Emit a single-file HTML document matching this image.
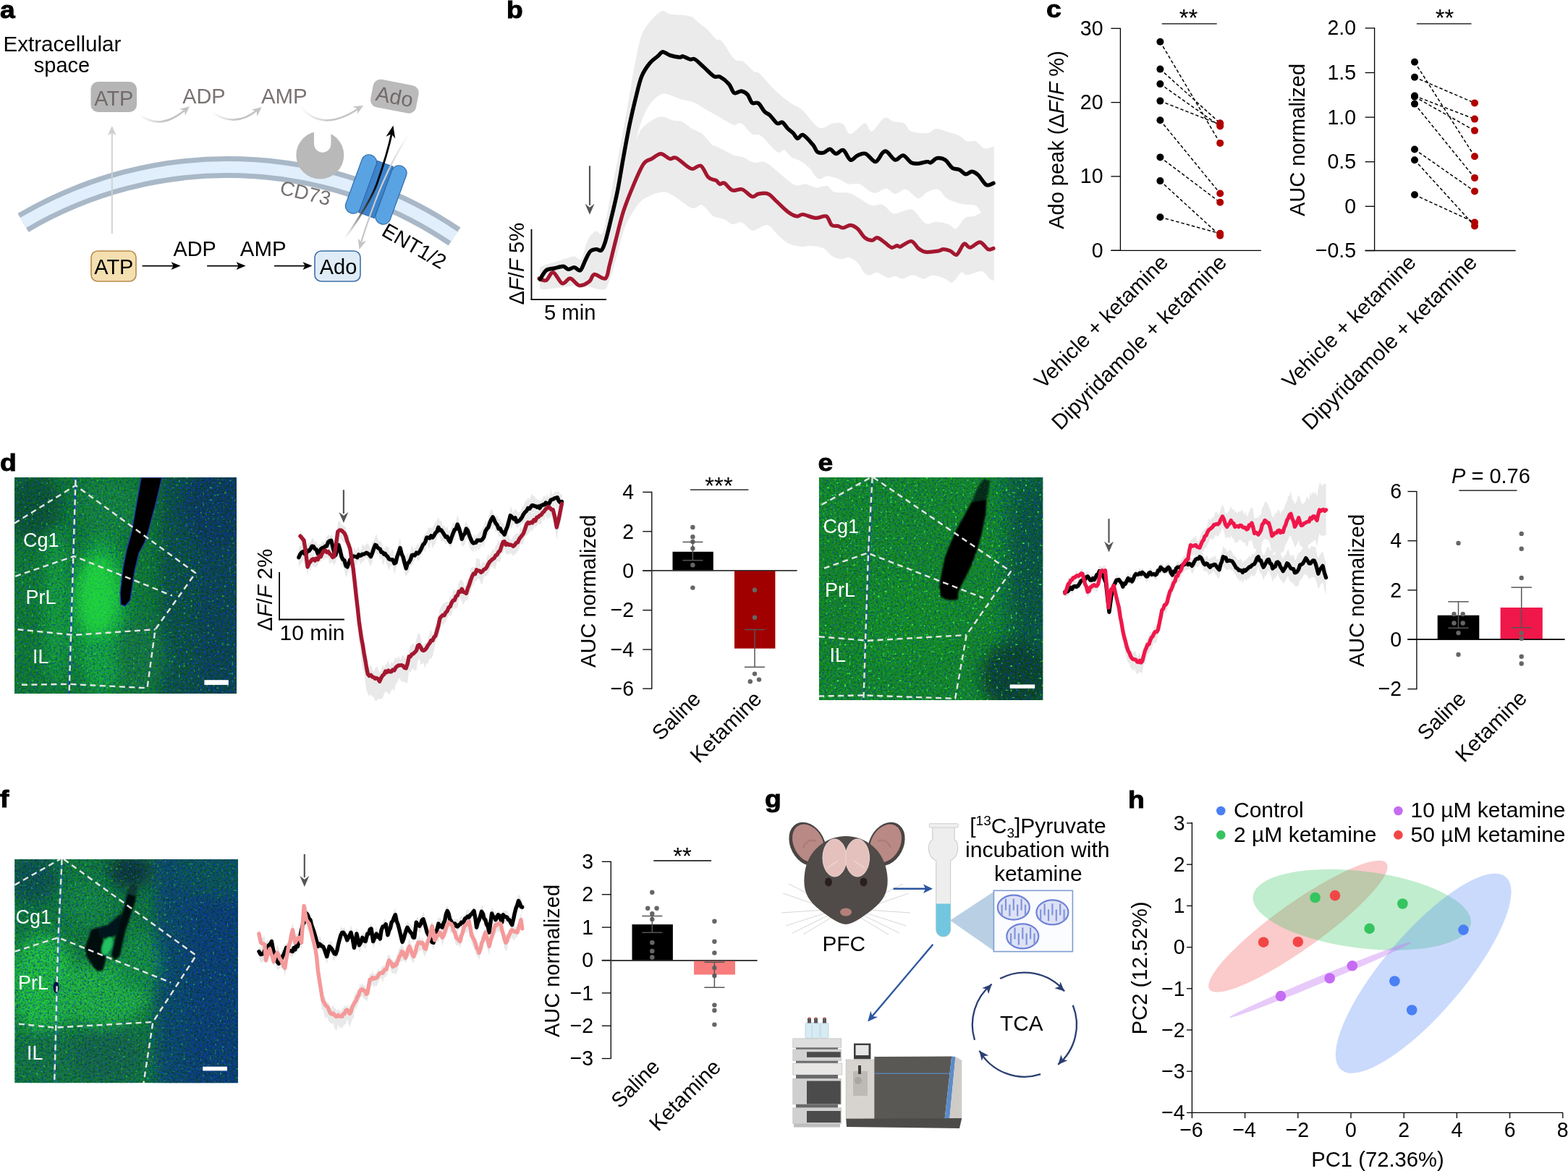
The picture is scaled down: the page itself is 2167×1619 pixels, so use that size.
<!DOCTYPE html>
<html><head><meta charset="utf-8"><title>Figure</title>
<style>
html,body{margin:0;padding:0;background:#fff;}
body{width:2167px;height:1619px;overflow:hidden;}
svg{display:block;}
text{font-family:"Liberation Sans", Arial, Helvetica, sans-serif;}
</style></head><body>
<svg width="2167" height="1619" viewBox="0 0 2167 1619">
<defs>
<linearGradient id="gArrBlk" gradientUnits="userSpaceOnUse" x1="476" y1="330" x2="540" y2="180">
<stop offset="0" stop-color="#999" stop-opacity="0"/><stop offset="0.3" stop-color="#444"/><stop offset="0.55" stop-color="#000"/></linearGradient>
<linearGradient id="gArrGryD" gradientUnits="userSpaceOnUse" x1="565" y1="186" x2="500" y2="335">
<stop offset="0" stop-color="#c4c4c4" stop-opacity="0"/><stop offset="0.35" stop-color="#d0d0d0"/><stop offset="1" stop-color="#c4c4c4"/></linearGradient>
<linearGradient id="gArrGry1" gradientUnits="userSpaceOnUse" x1="192" y1="0" x2="262" y2="0">
<stop offset="0" stop-color="#c4c4c4" stop-opacity="0"/><stop offset="0.5" stop-color="#c4c4c4"/></linearGradient>
<linearGradient id="gArrGry2" gradientUnits="userSpaceOnUse" x1="292" y1="0" x2="362" y2="0">
<stop offset="0" stop-color="#c4c4c4" stop-opacity="0"/><stop offset="0.5" stop-color="#c4c4c4"/></linearGradient>
<linearGradient id="gArrGry3" gradientUnits="userSpaceOnUse" x1="414" y1="0" x2="502" y2="0">
<stop offset="0" stop-color="#c4c4c4" stop-opacity="0"/><stop offset="0.5" stop-color="#c4c4c4"/></linearGradient>
<filter id="spkB" x="0" y="0" width="100%" height="100%" color-interpolation-filters="sRGB">
<feTurbulence type="fractalNoise" baseFrequency="0.38" numOctaves="2" seed="3" result="t"/>
<feColorMatrix in="t" type="matrix" values="0 0 0 0 0.05  0 0 0 0 0.2  0 0 0 0 0.95  5 0 0 0 -2.55"/>
</filter>
<filter id="spkD" x="0" y="0" width="100%" height="100%" color-interpolation-filters="sRGB">
<feTurbulence type="fractalNoise" baseFrequency="0.35" numOctaves="2" seed="11" result="t"/>
<feColorMatrix in="t" type="matrix" values="0 0 0 0 0  0 0 0 0 0.05  0 0 0 0 0.02  0 4 0 0 -1.9"/>
</filter>
<filter id="spkG" x="0" y="0" width="100%" height="100%" color-interpolation-filters="sRGB">
<feTurbulence type="fractalNoise" baseFrequency="0.3" numOctaves="1" seed="23" result="t"/>
<feColorMatrix in="t" type="matrix" values="0 0 0 0 0.25  0 0 0 0 1  0 0 0 0 0.35  0 0 10 0 -6.6"/>
</filter>
<filter id="blur3"><feGaussianBlur stdDeviation="3"/></filter>
<filter id="blur6"><feGaussianBlur stdDeviation="6"/></filter>
<filter id="blur10"><feGaussianBlur stdDeviation="10"/></filter>
<filter id="blur1"><feGaussianBlur stdDeviation="0.8"/></filter>
</defs>
<text transform="translate(0 24.5) scale(1.13 1)" font-size="33" font-weight="bold" stroke="#000" stroke-width="0.9">a</text>
<text x="4.5" y="71.3" font-size="29.6">Extracellular</text>
<text x="85.5" y="100" font-size="29" text-anchor="middle">space</text>
<path d="M32.0,308.0 A558.2,558.2 0 0 1 628.0,327.0" fill="none" stroke="#a9b8c7" stroke-width="30"/>
<path d="M32.0,308.0 A558.2,558.2 0 0 1 628.0,327.0" fill="none" stroke="#e1effc" stroke-width="16"/>
<rect x="125.5" y="113" width="63.5" height="42" rx="10" fill="#b6b5b5"/>
<text x="157.3" y="146" font-size="28.8" text-anchor="middle" fill="#726a6a">ATP</text>
<text x="252.3" y="142.5" font-size="28.8" fill="#7a7272">ADP</text>
<text x="361" y="143" font-size="29.4" fill="#7a7272">AMP</text>
<g transform="rotate(11 545.4 133.2)"><rect x="513.4" y="113.7" width="64" height="39" rx="10" fill="#bbbaba"/>
<text x="545.4" y="143.6" font-size="29" text-anchor="middle" fill="#726a6a">Ado</text>
</g>
<path d="M192,158 Q222,182 258,150" fill="none" stroke="url(#gArrGry1)" stroke-width="2.6"/>
<polygon points="-13,-6 0,0 -13,6 -9,0" transform="translate(262 147) rotate(-40)" fill="#c4c4c4"/>
<path d="M293,155 Q325,178 357,151" fill="none" stroke="url(#gArrGry2)" stroke-width="2.6"/>
<polygon points="-13,-6 0,0 -13,6 -9,0" transform="translate(361.5 148) rotate(-40)" fill="#c4c4c4"/>
<path d="M414,146 Q445,185 497,149" fill="none" stroke="url(#gArrGry3)" stroke-width="2.6"/>
<polygon points="-13,-6 0,0 -13,6 -9,0" transform="translate(502 146) rotate(-30)" fill="#c4c4c4"/>
<line x1="154.8" y1="323" x2="154.8" y2="182" stroke="#cfcfcf" stroke-width="1.8"/>
<polygon points="149,187 154.8,174 160.6,187 154.8,184" fill="#cfcfcf"/>
<circle cx="442.3" cy="214.5" r="33" fill="#b9b9b9"/>
<path d="M434,178 L434,199 A11.7,11.7 0 0 0 457.4,199 L457.4,178 Z" fill="#fff"/>
<g transform="rotate(13.3 385.5 268)">
<text x="385.5" y="268" font-size="27.7" fill="#767070">CD73</text>
</g>
<g transform="rotate(20 519.5 262)"><rect x="508" y="224" width="23" height="76" fill="#3d84cc" stroke="#2f68a8" stroke-width="1"/></g>
<g transform="rotate(20 499 254.5)"><rect x="488.5" y="212" width="21" height="85" rx="10" fill="#5aa3e2" stroke="#2f6aa8" stroke-width="1.2"/></g>
<g transform="rotate(20 540.5 269.4)"><rect x="530" y="227" width="21" height="85" rx="10" fill="#5aa3e2" stroke="#2f6aa8" stroke-width="1.2"/></g>
<path d="M564.7,186.3 Q530,236 499,335" fill="none" stroke="url(#gArrGryD)" stroke-width="2.2"/>
<polygon points="-14,-6 0,0 -14,6 -10,0" transform="translate(496.5 344.7) rotate(107)" fill="#c4c4c4"/>
<path d="M476.6,329.8 C492,308 514,275 522,250.9 C530,228 537,205 541.5,184" fill="none" stroke="url(#gArrBlk)" stroke-width="2.8"/>
<polygon points="-17,-6.5 0,0 -17,6.5 -12,0" transform="translate(543.4 173.5) rotate(-78)" fill="#000"/>
<g transform="rotate(30 525.8 324.4)">
<text x="525.8" y="324.4" font-size="28.5">ENT1/2</text>
</g>
<rect x="126" y="347" width="62" height="42" rx="9" fill="#f3dfb0" stroke="#b98b4b" stroke-width="1.6"/>
<text x="157.3" y="378.6" font-size="28.8" text-anchor="middle">ATP</text>
<text x="239.5" y="354.3" font-size="28.8">ADP</text>
<text x="331.8" y="354.3" font-size="29.4">AMP</text>
<rect x="435" y="347" width="63" height="42" rx="9" fill="#dfecf8" stroke="#3d70a6" stroke-width="1.6"/>
<text x="467.5" y="378.7" font-size="29" text-anchor="middle">Ado</text>
<line x1="196.6" y1="367.6" x2="241.6" y2="367.6" stroke="#000" stroke-width="1.6"/>
<polygon points="236.6,362.3 249.6,367.6 236.6,372.9 239.6,367.6" fill="#000"/>
<line x1="286.1" y1="367.6" x2="331.6" y2="367.6" stroke="#000" stroke-width="1.6"/>
<polygon points="326.6,362.3 339.6,367.6 326.6,372.9 329.6,367.6" fill="#000"/>
<line x1="378.9" y1="367.6" x2="423.5" y2="367.6" stroke="#000" stroke-width="1.6"/>
<polygon points="418.5,362.3 431.5,367.6 418.5,372.9 421.5,367.6" fill="#000"/>
<text transform="translate(700 24.5) scale(1.13 1)" font-size="33" font-weight="bold" stroke="#000" stroke-width="0.9">b</text>
<path d="M746,370 C746.8,369.5 747.7,368.1 751,366.9 C754.3,365.7 761.1,364.2 765.9,362.7 C770.7,361.2 775.4,359.4 780,358 C784.6,356.6 789.8,354.4 793.7,354.4 C797.6,354.4 800.4,361.5 803.4,358 C806.4,354.5 808.5,339.9 811.7,333.5 C814.9,327.1 819.5,321.2 822.8,319.6 C826,318 828.9,325.7 831.2,323.8 C833.5,321.9 834.4,318.5 836.7,308.5 C839,298.5 842.3,278.4 845.1,264 C847.9,249.6 850.6,236.7 853.4,222.3 C856.2,208 858.9,193.2 861.7,177.9 C864.5,162.6 867.3,146.3 870.1,130.6 C872.9,114.8 875.6,97.1 878.4,83.4 C881.2,69.7 883.5,57.4 886.8,48.6 C890,39.8 893.3,36.1 897.9,30.6 C902.5,25.1 910,17.2 914.6,15.3 C919.2,13.5 921.1,18.6 925.7,19.5 C930.3,20.4 937.2,20.1 942.3,20.8 C947.4,21.5 952.5,22 956.2,23.6 C959.9,25.2 960.9,27.6 964.6,30.6 C968.3,33.6 974.3,37.7 978.5,41.7 C982.7,45.7 986.9,51.9 990,54.4 C993.1,56.9 993.3,52.3 997.4,56.8 C1001.5,61.3 1009.8,76.8 1014.7,81.5 C1019.7,86.2 1022.6,82.3 1027.1,85.2 C1031.6,88.1 1038.2,96.1 1041.9,98.8 C1045.6,101.5 1045.6,98.2 1049.3,101.3 C1053,104.4 1059.6,112.7 1064.1,117.4 C1068.6,122.1 1071.5,125.4 1076.5,129.7 C1081.5,134 1088.5,139.6 1093.8,143.3 C1099.1,147 1102.8,146.8 1108.6,151.9 C1114.4,157.1 1123.5,170.1 1128.4,174.2 C1133.3,178.3 1134.5,177.3 1138.2,176.7 C1141.9,176.1 1146.1,171.3 1150.6,170.5 C1155.1,169.7 1161.3,169.2 1165.4,171.7 C1169.5,174.2 1170.3,185.5 1175.3,185.3 C1180.2,185.1 1190.1,171.1 1195.1,170.5 C1200,169.9 1200.5,182.8 1205,181.6 C1209.5,180.4 1217.3,165.4 1222.2,163.1 C1227.1,160.8 1230.1,166.8 1234.6,168 C1239.1,169.2 1245.3,168.2 1249.4,170.5 C1253.5,172.8 1254,179.3 1259.3,181.6 C1264.6,183.9 1275.7,184.7 1281.5,184.1 C1287.3,183.5 1289,178.1 1293.9,177.9 C1298.9,177.7 1305.9,181.2 1311.2,182.8 C1316.5,184.5 1321.9,185.7 1326,187.8 C1330.1,189.9 1332.2,194 1335.9,195.2 C1339.6,196.4 1344.1,193.5 1348.2,195.2 C1352.3,196.8 1356.3,203.9 1360.6,205.1 C1364.8,206.3 1371.5,203 1373.7,202.6 L1373.7,387.9 C1372.8,387.5 1370.6,387.5 1368,385.4 C1365.4,383.3 1361.4,376.9 1358.1,375.5 C1354.8,374.1 1351.9,376 1348.2,376.8 C1344.5,377.6 1339.2,380.5 1335.9,380.5 C1332.6,380.5 1331.8,375.2 1328.5,376.8 C1325.2,378.4 1319.8,389 1316.1,390.4 C1312.4,391.8 1310.7,387 1306.2,385.4 C1301.7,383.8 1293.8,380.5 1288.9,380.5 C1284,380.5 1281.1,385.4 1276.6,385.4 C1272.1,385.4 1266.7,380.5 1261.8,380.5 C1256.9,380.5 1251.1,385.2 1247,385.4 C1242.9,385.6 1240.4,381.9 1237.1,381.7 C1233.8,381.5 1231.3,385 1227.2,384.2 C1223.1,383.4 1216.5,377.4 1212.4,376.8 C1208.3,376.2 1205.4,380.3 1202.5,380.5 C1199.6,380.7 1198,380.9 1195.1,378 C1192.2,375.1 1188.9,366.9 1185.2,363.2 C1181.5,359.5 1176.5,356.6 1172.8,355.8 C1169.1,355 1166.6,358.4 1162.9,358.2 C1159.2,358 1154.7,357 1150.6,354.5 C1146.5,352 1143.1,345.9 1138.2,343.4 C1133.3,340.9 1126.3,340.1 1121,339.7 C1115.7,339.3 1111.5,341.5 1106.1,340.9 C1100.7,340.3 1094.1,338.9 1088.8,336 C1083.5,333.1 1078.5,327.8 1074,323.7 C1069.5,319.6 1065.7,312.8 1061.6,311.3 C1057.5,309.9 1053,313.8 1049.3,315 C1045.6,316.2 1043.5,319.9 1039.4,318.7 C1035.3,317.5 1029.1,309 1024.6,307.6 C1020.1,306.2 1015.9,310.7 1012.2,310.1 C1008.5,309.5 1006.1,305.5 1002.4,303.9 C998.7,302.2 993.1,301.3 990,300.2 C986.9,299.1 987.3,300.2 984,297.4 C980.7,294.6 974.7,285.1 970.1,283.5 C965.5,281.9 962.7,289.8 956.2,287.7 C949.7,285.6 938.1,274.7 931.2,271 C924.3,267.3 921.6,264.7 914.6,265.4 C907.6,266.1 896,270.8 889.5,275.2 C883,279.6 880.2,284.4 875.6,291.8 C871,299.2 865.9,308 861.7,319.6 C857.5,331.2 854.3,348.8 850.6,361.3 C846.9,373.8 842.7,388.2 839.5,394.7 C836.3,401.2 837.2,400.2 831.2,400.2 C825.2,400.2 812.7,395.2 803.4,394.7 C794.1,394.2 784.4,396.5 775.6,397.4 C766.8,398.3 755.5,400.1 750.6,400.2 C745.7,400.3 746.8,398.4 746,398 L746,370 Z" fill="#ebebeb"/>
<path d="M878.4,194.6 C879.8,190 883.5,175.2 886.8,166.8 C890,158.5 893.3,150.6 897.9,144.5 C902.5,138.4 909,131.9 914.6,130.1 C920.2,128.2 926.6,132.2 931.2,133.4 C935.8,134.7 937.7,136.2 942.3,137.6 C946.9,139 953.4,139.4 959,141.7 C964.6,144 970.5,148.6 975.7,151.5 C980.9,154.4 985.1,156.7 990,159.4 C994.9,162.2 1000.7,165.8 1004.8,168 C1008.9,170.2 1011.4,172.5 1014.7,172.9 C1018,173.3 1020.5,168.4 1024.6,170.5 C1028.7,172.6 1034.9,182.4 1039.4,185.3 C1043.9,188.2 1046,183.7 1051.8,187.8 C1057.6,191.9 1068.7,206.7 1074,210 C1079.3,213.3 1080.6,206.3 1083.9,207.5 C1087.2,208.7 1090.1,214.9 1093.8,217.4 C1097.5,219.9 1102,219.9 1106.1,222.4 C1110.2,224.9 1114.4,228.1 1118.5,232.2 C1122.6,236.3 1126.7,245.2 1130.8,247.1 C1134.9,249 1138.7,243.4 1143.2,243.4 C1147.7,243.4 1153.1,245.2 1158,247.1 C1162.9,248.9 1167.8,253.3 1172.8,254.5 C1177.8,255.7 1181.9,252.4 1187.7,254.5 C1193.5,256.6 1201.2,265.8 1207.4,266.8 C1213.6,267.8 1219.8,260.5 1224.7,260.7 C1229.7,260.9 1232.6,267.9 1237.1,268.1 C1241.6,268.3 1246.6,260.9 1251.9,261.9 C1257.2,262.9 1264.3,273.6 1269.2,274.2 C1274.1,274.8 1277,267.7 1281.5,265.6 C1286,263.6 1291.9,260.5 1296.4,261.9 C1300.9,263.3 1304.2,271.1 1308.7,274.2 C1313.2,277.3 1319,278.9 1323.5,280.4 C1328,281.8 1331.8,282.3 1335.9,282.9 C1340,283.5 1344.9,282.2 1348.2,284.1 C1351.5,286 1354.7,292.4 1356,294 C1357.3,295.6 1357.7,293.2 1356,294 C1354.3,294.8 1349.6,297.8 1345.8,299 C1342,300.2 1337.5,298.5 1333.4,301.4 C1329.3,304.3 1324.8,314.8 1321.1,316.2 C1317.4,317.6 1315.7,311.7 1311.2,310.1 C1306.7,308.5 1299.2,306.6 1293.9,306.4 C1288.6,306.2 1284.4,311.5 1279.1,308.8 C1273.8,306.1 1266.8,293.2 1261.8,290.3 C1256.8,287.4 1253.9,290.7 1249.4,291.5 C1244.9,292.3 1239.5,296.6 1234.6,295.2 C1229.7,293.8 1224.8,284.8 1219.8,282.9 C1214.8,281 1210.2,285.6 1204.9,284.1 C1199.6,282.7 1193.1,277.1 1187.7,274.2 C1182.3,271.3 1178.6,268.2 1172.8,266.8 C1167,265.4 1158,267.2 1153.1,265.6 C1148.2,264 1147.3,257.9 1143.2,256.9 C1139.1,255.9 1133.4,259.8 1128.4,259.4 C1123.5,259 1118.5,255.1 1113.5,254.5 C1108.5,253.9 1104.5,258 1098.7,255.7 C1092.9,253.4 1084.7,245.4 1078.9,240.9 C1073.1,236.4 1068.2,231.4 1064.1,228.5 C1060,225.6 1057.9,224.2 1054.2,223.6 C1050.5,223 1046.4,225.8 1041.9,224.8 C1037.4,223.8 1031.6,219.1 1027.1,217.4 C1022.6,215.8 1019.2,216.6 1014.7,214.9 C1010.2,213.2 1004,209.6 999.9,207.5 C995.8,205.4 992.6,203.8 990,202.6 C987.4,201.4 987.3,203.1 984,200.1 C980.7,197.1 974.7,188.5 970.1,184.8 C965.5,181.1 960.8,180.7 956.2,177.9 C951.6,175.1 946.5,169.9 942.3,168.1 C938.1,166.2 935.8,168 931.2,166.8 C926.6,165.7 919.7,161.2 914.6,161.2 C909.5,161.2 905.3,164 900.7,166.8 C896.1,169.6 890.5,173.3 886.8,177.9 C883.1,182.5 879.8,191.8 878.4,194.6 Z" fill="#fff"/>
<path d="M745,385 C746.6,385.4 751.5,389.1 754.7,387.7 C758,386.3 760.8,375.9 764.5,376.6 C768.2,377.3 773.1,390.5 777,391.9 C780.9,393.3 784.2,384.4 788.1,384.9 C792,385.4 796.2,394 800.6,394.7 C805,395.4 811,391.7 814.5,389.1 C818,386.6 817.7,380.1 821.4,379.4 C825.1,378.7 833.2,387 836.7,384.9 C840.2,382.8 840,375.5 842.3,366.9 C844.6,358.3 847.4,346 850.6,333.5 C853.8,321 857.5,304.8 861.7,291.8 C865.9,278.8 871,266.6 875.6,255.7 C880.2,244.8 885.3,232.5 889.5,226.5 C893.7,220.5 896.8,221.9 900.7,219.6 C904.7,217.3 909,212.6 913.2,212.6 C917.4,212.6 922.2,218.7 925.7,219.6 C929.2,220.5 929.8,216.3 934,218.2 C938.2,220 946.8,228.1 950.7,230.7 C954.6,233.2 954.6,233.7 957.6,233.5 C960.6,233.3 965.2,227.5 968.7,229.3 C972.2,231.2 975.5,241.4 978.5,244.6 C981.5,247.8 984.9,247.9 986.8,248.7 C988.7,249.5 988.6,248.5 990,249.5 C991.4,250.5 993,253.9 994.9,254.5 C996.8,255.1 998.2,251.8 1001.1,253.2 C1004,254.6 1008.1,261.7 1012.2,263.1 C1016.3,264.6 1021.3,260.4 1025.8,261.9 C1030.3,263.3 1035.7,270.8 1039.4,271.8 C1043.1,272.8 1044.4,268.7 1048.1,268.1 C1051.8,267.5 1057.3,266.2 1061.6,268.1 C1065.9,270 1069.5,275.1 1074,279.2 C1078.5,283.3 1084.3,289.5 1088.8,292.8 C1093.3,296.1 1097.7,298.4 1101.2,299 C1104.7,299.6 1105.5,296.1 1109.8,296.5 C1114.1,296.9 1121.8,301 1127.1,301.4 C1132.4,301.8 1138.2,297.4 1141.9,299 C1145.6,300.6 1146.7,309.1 1149.4,311.3 C1152.1,313.6 1155.3,311.9 1158,312.5 C1160.7,313.1 1162.5,315.2 1165.4,315 C1168.3,314.8 1172,311.1 1175.3,311.3 C1178.6,311.5 1181.9,313.3 1185.2,316.2 C1188.5,319.1 1191.8,325.9 1195.1,328.6 C1198.4,331.3 1202,332.3 1204.9,332.3 C1207.8,332.3 1209.5,328.2 1212.4,328.6 C1215.3,329 1218.9,332.5 1222.2,334.8 C1225.5,337.1 1229.2,341.4 1232.1,342.2 C1235,343 1237.4,339.9 1239.5,339.7 C1241.6,339.5 1241.2,341.9 1244.5,340.9 C1247.8,339.9 1255.2,333.1 1259.3,333.5 C1263.4,333.9 1265.9,340.9 1269.2,343.4 C1272.5,345.9 1274.6,347.8 1279.1,348.4 C1283.6,349 1292.3,347.7 1296.4,347.1 C1300.5,346.5 1300.9,344.7 1303.8,344.7 C1306.7,344.7 1310.6,345.9 1313.7,347.1 C1316.8,348.3 1319.2,353.8 1322.3,352.1 C1325.4,350.5 1329.1,338.9 1332.2,337.2 C1335.3,335.5 1337.1,342.6 1340.8,342.2 C1344.5,341.8 1350.3,334.4 1354.4,334.8 C1358.5,335.2 1362.4,343.3 1365.5,344.7 C1368.6,346.1 1371.8,343.6 1373,343.4" fill="none" stroke="#a3172f" stroke-width="5.2" stroke-linejoin="round" stroke-linecap="round"/>
<path d="M746.4,386.3 C747.8,384.2 751.5,376.4 754.7,373.8 C758,371.2 762,371.9 765.9,371 C769.8,370.1 775.2,368.1 778.4,368.3 C781.6,368.5 782.8,372.2 785.3,372.4 C787.8,372.6 790.9,369.4 793.7,369.6 C796.5,369.8 799.5,375.4 802,373.8 C804.5,372.2 806.6,364.3 808.9,359.9 C811.2,355.5 813.3,349.9 815.9,347.4 C818.5,344.8 821.7,344.8 824.2,344.6 C826.8,344.4 829.1,347.9 831.2,346 C833.3,344.1 834.4,341.1 836.7,333.5 C839,325.9 842.3,311.8 845.1,300.2 C847.9,288.6 850.6,277.9 853.4,264 C856.2,250.1 858.9,232.1 861.7,216.8 C864.5,201.5 867.3,185.7 870.1,172.3 C872.9,158.9 875.6,147.3 878.4,136.2 C881.2,125.1 883.5,113.7 886.8,105.6 C890,97.5 894.2,92.1 897.9,87.5 C901.6,82.9 906,80.4 909,77.8 C912,75.2 913.2,71.9 916,71.7 C918.8,71.5 921.8,75.2 925.7,76.4 C929.6,77.7 936.6,79 939.6,79.2 C942.6,79.4 941.4,77.3 943.7,77.8 C946,78.3 950.7,81.3 953.5,82 C956.3,82.7 957.2,80.2 960.4,82 C963.6,83.8 968.5,89.2 972.9,93.1 C977.3,97 983.1,103.4 986.8,105.6 C990.5,107.8 991.5,104.5 994.9,106.2 C998.3,108 1004,112.4 1007.3,116.1 C1010.6,119.8 1011.8,126.8 1014.7,128.5 C1017.6,130.2 1021.5,125.6 1024.6,126 C1027.7,126.4 1030.7,128.2 1033.2,130.9 C1035.7,133.6 1036.9,140.1 1039.4,142.1 C1041.9,144.1 1045.2,140.8 1048.1,142.8 C1051,144.9 1054,151.6 1056.7,154.4 C1059.4,157.2 1061.2,156.7 1064.1,159.4 C1067,162.1 1071.1,168.9 1074,170.5 C1076.9,172.1 1078.9,168 1081.4,169.2 C1083.9,170.4 1086.3,175.4 1088.8,177.9 C1091.3,180.4 1093.9,181.8 1096.2,184.1 C1098.5,186.4 1100.1,191.1 1102.4,191.5 C1104.7,191.9 1106.3,185.1 1109.8,186.5 C1113.3,187.9 1120.1,196.2 1123.4,200.1 C1126.7,204 1127.1,208.2 1129.6,210 C1132.1,211.8 1135.3,211.8 1138.2,211.2 C1141.1,210.6 1144,206.1 1146.9,206.3 C1149.8,206.5 1152.4,212.3 1155.5,212.5 C1158.6,212.7 1162.1,206.1 1165.4,207.5 C1168.7,208.9 1172,219.9 1175.3,221.1 C1178.6,222.3 1181.7,216.3 1185.2,214.9 C1188.7,213.5 1192.2,211.1 1196.3,212.5 C1200.4,213.9 1206,223.8 1209.9,223.6 C1213.8,223.4 1217.1,213.5 1219.8,211.2 C1222.5,208.9 1223.1,208.3 1226,210 C1228.9,211.7 1233.4,220.3 1237.1,221.1 C1240.8,221.9 1244.5,214.3 1248.2,214.9 C1251.9,215.5 1255.8,222.9 1259.3,224.8 C1262.8,226.7 1265.5,226.3 1269.2,226.1 C1272.9,225.9 1278.6,223.8 1281.5,223.6 C1284.4,223.4 1284.2,225.6 1286.5,224.8 C1288.8,224 1291.8,219.3 1295.1,218.7 C1298.4,218.1 1302.7,218.8 1306.2,221.1 C1309.7,223.3 1312.8,229.9 1316.1,232.2 C1319.4,234.5 1322.9,233.2 1326,234.7 C1329.1,236.1 1331.8,240.5 1334.7,240.9 C1337.6,241.3 1340.4,237 1343.3,237.2 C1346.2,237.4 1348.7,239 1352,242.1 C1355.3,245.2 1359.6,253.8 1363.1,255.7 C1366.6,257.6 1371.3,253.6 1373,253.2" fill="none" stroke="#000" stroke-width="5.4" stroke-linejoin="round" stroke-linecap="round"/>
<line x1="815" y1="229.3" x2="815" y2="283.8" stroke="#555" stroke-width="2.2"/>
<polygon points="808.5,281.8 815,286.8 821.5,281.8 815,296.8" fill="#555"/>
<line x1="734.5" y1="316.8" x2="734.5" y2="414.9" stroke="#000" stroke-width="1.8"/>
<line x1="733.6" y1="414.1" x2="838.1" y2="414.1" stroke="#000" stroke-width="1.8"/>
<text x="752" y="441.9" font-size="29.2">5 min</text>
<text x="724.3" y="421.5" font-size="29.2" transform="rotate(-90 724.3 421.5)">&#916;<tspan font-style="italic">F</tspan>/<tspan font-style="italic">F</tspan> 5%</text>
<text transform="translate(1446 24.2) scale(1.13 1)" font-size="33" font-weight="bold" stroke="#000" stroke-width="0.9">c</text>
<line x1="1548.4" y1="38.7" x2="1548.4" y2="346.3" stroke="#000" stroke-width="1.3"/>
<line x1="1535.4" y1="346.3" x2="1743" y2="346.3" stroke="#000" stroke-width="1.3"/>
<line x1="1535.4" y1="39.3" x2="1548.4" y2="39.3" stroke="#000" stroke-width="1.3"/>
<text transform="translate(1524.5 48.8) scale(0.95 1)" font-size="30" text-anchor="end">30</text>
<line x1="1535.4" y1="141.6" x2="1548.4" y2="141.6" stroke="#000" stroke-width="1.3"/>
<text transform="translate(1524.5 151.1) scale(0.95 1)" font-size="30" text-anchor="end">20</text>
<line x1="1535.4" y1="243.9" x2="1548.4" y2="243.9" stroke="#000" stroke-width="1.3"/>
<text transform="translate(1524.5 253.4) scale(0.95 1)" font-size="30" text-anchor="end">10</text>
<line x1="1535.4" y1="346.3" x2="1548.4" y2="346.3" stroke="#000" stroke-width="1.3"/>
<text transform="translate(1524.5 355.8) scale(0.95 1)" font-size="30" text-anchor="end">0</text>
<line x1="1603.4" y1="57.7" x2="1686.2" y2="197.9" stroke="#000" stroke-width="1.5" stroke-dasharray="4.5 3"/>
<line x1="1603.4" y1="95.6" x2="1686.2" y2="170.3" stroke="#000" stroke-width="1.5" stroke-dasharray="4.5 3"/>
<line x1="1603.4" y1="116.1" x2="1686.2" y2="174.4" stroke="#000" stroke-width="1.5" stroke-dasharray="4.5 3"/>
<line x1="1603.4" y1="139.6" x2="1686.2" y2="172.3" stroke="#000" stroke-width="1.5" stroke-dasharray="4.5 3"/>
<line x1="1603.4" y1="166.2" x2="1686.2" y2="267.5" stroke="#000" stroke-width="1.5" stroke-dasharray="4.5 3"/>
<line x1="1603.4" y1="217.4" x2="1686.2" y2="279.8" stroke="#000" stroke-width="1.5" stroke-dasharray="4.5 3"/>
<line x1="1603.4" y1="250.1" x2="1686.2" y2="325.8" stroke="#000" stroke-width="1.5" stroke-dasharray="4.5 3"/>
<line x1="1603.4" y1="300.2" x2="1686.2" y2="322.8" stroke="#000" stroke-width="1.5" stroke-dasharray="4.5 3"/>
<circle cx="1603.4" cy="57.7" r="5" fill="#000"/>
<circle cx="1686.2" cy="197.9" r="5" fill="#b10000"/>
<circle cx="1603.4" cy="95.6" r="5" fill="#000"/>
<circle cx="1686.2" cy="170.3" r="5" fill="#b10000"/>
<circle cx="1603.4" cy="116.1" r="5" fill="#000"/>
<circle cx="1686.2" cy="174.4" r="5" fill="#b10000"/>
<circle cx="1603.4" cy="139.6" r="5" fill="#000"/>
<circle cx="1686.2" cy="172.3" r="5" fill="#b10000"/>
<circle cx="1603.4" cy="166.2" r="5" fill="#000"/>
<circle cx="1686.2" cy="267.5" r="5" fill="#b10000"/>
<circle cx="1603.4" cy="217.4" r="5" fill="#000"/>
<circle cx="1686.2" cy="279.8" r="5" fill="#b10000"/>
<circle cx="1603.4" cy="250.1" r="5" fill="#000"/>
<circle cx="1686.2" cy="325.8" r="5" fill="#b10000"/>
<circle cx="1603.4" cy="300.2" r="5" fill="#000"/>
<circle cx="1686.2" cy="322.8" r="5" fill="#b10000"/>
<line x1="1605.7" y1="32.9" x2="1681.7" y2="32.9" stroke="#000" stroke-width="1.3"/>
<text x="1642.5" y="36" font-size="33" text-anchor="middle">**</text>
<text x="1470" y="193.5" font-size="29" text-anchor="middle" transform="rotate(-90 1470 193.5)">Ado peak (&#916;<tspan font-style="italic">F</tspan>/<tspan font-style="italic">F</tspan> %)</text>
<text x="1616" y="364.4" font-size="29.3" text-anchor="end" transform="rotate(-45 1616 364.4)">Vehicle + ketamine</text>
<text x="1697" y="364.5" font-size="29.7" text-anchor="end" transform="rotate(-45 1697 364.5)">Dipyridamole + ketamine</text>
<line x1="1899.6" y1="38.3" x2="1899.6" y2="346.5" stroke="#000" stroke-width="1.3"/>
<line x1="1886.6" y1="346.5" x2="2094.7" y2="346.5" stroke="#000" stroke-width="1.3"/>
<line x1="1886.6" y1="38.9" x2="1899.6" y2="38.9" stroke="#000" stroke-width="1.3"/>
<text transform="translate(1874 48.4) scale(0.95 1)" font-size="30" text-anchor="end">2.0</text>
<line x1="1886.6" y1="100.5" x2="1899.6" y2="100.5" stroke="#000" stroke-width="1.3"/>
<text transform="translate(1874 110) scale(0.95 1)" font-size="30" text-anchor="end">1.5</text>
<line x1="1886.6" y1="162.1" x2="1899.6" y2="162.1" stroke="#000" stroke-width="1.3"/>
<text transform="translate(1874 171.6) scale(0.95 1)" font-size="30" text-anchor="end">1.0</text>
<line x1="1886.6" y1="223.7" x2="1899.6" y2="223.7" stroke="#000" stroke-width="1.3"/>
<text transform="translate(1874 233.2) scale(0.95 1)" font-size="30" text-anchor="end">0.5</text>
<line x1="1886.6" y1="285.3" x2="1899.6" y2="285.3" stroke="#000" stroke-width="1.3"/>
<text transform="translate(1874 294.8) scale(0.95 1)" font-size="30" text-anchor="end">0</text>
<line x1="1886.6" y1="346.5" x2="1899.6" y2="346.5" stroke="#000" stroke-width="1.3"/>
<text transform="translate(1874 356) scale(0.95 1)" font-size="30" text-anchor="end">−0.5</text>
<line x1="1955" y1="85.7" x2="2038" y2="216.3" stroke="#000" stroke-width="1.5" stroke-dasharray="4.5 3"/>
<line x1="1955" y1="106.7" x2="2038" y2="142.4" stroke="#000" stroke-width="1.5" stroke-dasharray="4.5 3"/>
<line x1="1955" y1="132.5" x2="2038" y2="164.6" stroke="#000" stroke-width="1.5" stroke-dasharray="4.5 3"/>
<line x1="1955" y1="133.8" x2="2038" y2="180.6" stroke="#000" stroke-width="1.5" stroke-dasharray="4.5 3"/>
<line x1="1955" y1="143.6" x2="2038" y2="245.9" stroke="#000" stroke-width="1.5" stroke-dasharray="4.5 3"/>
<line x1="1955" y1="206.5" x2="2038" y2="264.4" stroke="#000" stroke-width="1.5" stroke-dasharray="4.5 3"/>
<line x1="1955" y1="221.2" x2="2038" y2="312.4" stroke="#000" stroke-width="1.5" stroke-dasharray="4.5 3"/>
<line x1="1955" y1="269.3" x2="2038" y2="307.5" stroke="#000" stroke-width="1.5" stroke-dasharray="4.5 3"/>
<circle cx="1955" cy="85.7" r="5" fill="#000"/>
<circle cx="2038" cy="216.3" r="5" fill="#b10000"/>
<circle cx="1955" cy="106.7" r="5" fill="#000"/>
<circle cx="2038" cy="142.4" r="5" fill="#b10000"/>
<circle cx="1955" cy="132.5" r="5" fill="#000"/>
<circle cx="2038" cy="164.6" r="5" fill="#b10000"/>
<circle cx="1955" cy="133.8" r="5" fill="#000"/>
<circle cx="2038" cy="180.6" r="5" fill="#b10000"/>
<circle cx="1955" cy="143.6" r="5" fill="#000"/>
<circle cx="2038" cy="245.9" r="5" fill="#b10000"/>
<circle cx="1955" cy="206.5" r="5" fill="#000"/>
<circle cx="2038" cy="264.4" r="5" fill="#b10000"/>
<circle cx="1955" cy="221.2" r="5" fill="#000"/>
<circle cx="2038" cy="312.4" r="5" fill="#b10000"/>
<circle cx="1955" cy="269.3" r="5" fill="#000"/>
<circle cx="2038" cy="307.5" r="5" fill="#b10000"/>
<line x1="1957.9" y1="32.9" x2="2033.5" y2="32.9" stroke="#000" stroke-width="1.3"/>
<text x="1996.5" y="36" font-size="33" text-anchor="middle">**</text>
<text x="1803" y="193.5" font-size="29" text-anchor="middle" transform="rotate(-90 1803 193.5)">AUC normalized</text>
<text x="1958.5" y="364.4" font-size="29.3" text-anchor="end" transform="rotate(-45 1958.5 364.4)">Vehicle + ketamine</text>
<text x="2043" y="364.5" font-size="29.7" text-anchor="end" transform="rotate(-45 2043 364.5)">Dipyridamole + ketamine</text>
<text transform="translate(0 651) scale(1.13 1)" font-size="33" font-weight="bold" stroke="#000" stroke-width="0.9">d</text>
<svg x="20" y="660" width="307" height="299" viewBox="20 660 307 299" overflow="hidden">
<rect x="20" y="660" width="307" height="299" fill="#12802c"/>
<g filter="url(#blur10)">
<rect x="220" y="640" width="130" height="340" fill="#0d5636"/>
<rect x="270" y="640" width="80" height="340" fill="#0b4a42"/>
<ellipse cx="300" cy="700" rx="50" ry="60" fill="#0a404a"/>
<ellipse cx="45" cy="700" rx="40" ry="50" fill="#0c5a2c"/>
<ellipse cx="78" cy="840" rx="16" ry="110" fill="#18a636"/>
<ellipse cx="140" cy="850" rx="38" ry="110" fill="#18ac38"/>
<ellipse cx="150" cy="700" rx="40" ry="40" fill="#128a36"/>
<ellipse cx="195" cy="905" rx="35" ry="55" fill="#137e36"/>
</g>
<rect x="20" y="660" width="307" height="299" fill="#000" filter="url(#spkB)" opacity="0.35"/>
<rect x="225" y="660" width="102" height="299" fill="#000" filter="url(#spkB)" opacity="0.3"/>
<rect x="20" y="660" width="307" height="299" fill="#000" filter="url(#spkD)" opacity="0.25"/>
<ellipse cx="135" cy="825" rx="30" ry="56" fill="#22dc3a" filter="url(#blur10)" opacity="0.8"/>
<rect x="20" y="660" width="307" height="299" fill="#000" filter="url(#spkB)" opacity="0.12"/>
<rect x="20" y="660" width="307" height="299" fill="#000" filter="url(#spkG)" opacity="0.5"/>
<polygon points="195,660 224,660 217,690 205,735 200,750 192,765 186,790 180,830 173,838 167,836 166,820 170,785 175,760 182,735 188,700" fill="#000" stroke="#1d3fa0" stroke-width="1.5"/>
<line x1="104.5" y1="660" x2="95.6" y2="959" stroke="#1a3fd0" stroke-width="2"/>
<polyline points="104.5,663.4 95.6,958" fill="none" stroke="#e6e6e6" stroke-width="2.4" stroke-dasharray="8 5.5" stroke-linejoin="round"/>
<polyline points="20,723.4 104.5,671.1 270.2,792.3 214.6,870.2 203.5,951.3 95.6,945.8 24.5,946.9" fill="none" stroke="#e6e6e6" stroke-width="2.4" stroke-dasharray="8 5.5" stroke-linejoin="round"/>
<polyline points="21.1,796.8 102.3,769 237.9,823.5" fill="none" stroke="#e6e6e6" stroke-width="2.4" stroke-dasharray="8 5.5" stroke-linejoin="round"/>
<polyline points="24.5,870.2 102.3,878 214.6,870.2" fill="none" stroke="#e6e6e6" stroke-width="2.4" stroke-dasharray="8 5.5" stroke-linejoin="round"/>
<text x="32" y="755.6" font-size="27" fill="#fff">Cg1</text>
<text x="35.5" y="834.6" font-size="27" fill="#fff">PrL</text>
<text x="45" y="916.9" font-size="27" fill="#fff">IL</text>
<rect x="282.4" y="940.2" width="33.4" height="6.7" fill="#fff"/>
</svg>
<polygon points="412.9,757.2 414.9,753 417,755.3 419,751.5 421.1,755.3 423.1,757.2 425.1,754.5 427.1,750.1 429.2,748.9 431.2,744.2 433.2,744.5 435.2,749.8 437.3,748.3 439.3,754.9 441.4,752 443.4,752.7 445.4,748.4 447.5,750.3 449.5,748.5 451.5,741.7 453.6,739 455.6,741.3 457.6,739.7 459.6,740.1 461.7,748.4 463.7,756 465.8,745.6 467.8,739.8 469.8,744.4 471.9,760.1 473.9,765.5 475.9,767.7 478,767.9 480,775.1 482,769.3 484,759.3 486,764.5 488,762.7 490.1,755.5 492.1,763.1 493.8,758.7 495.6,755.7 497.3,762.2 499.1,760.4 500.8,751.7 502.6,754.7 504.3,754.8 506.3,751.7 508.4,751.3 510.4,754.3 512.4,760.8 514.4,749.3 516.5,748 518.5,741.8 520.2,738.3 521.9,744.6 523.6,748.5 525.3,748.3 527,748.1 528.7,757.5 530.4,758 532.2,758.9 533.9,753.4 535.7,756.2 537.4,757.2 539.2,765.2 540.9,760.4 542.9,759.3 545,767.2 547,770.9 549,761.2 551,750.4 553,743 555,759.1 557.1,759.6 559.2,769.7 561.2,770.8 563.2,763.5 565.2,768.5 567.3,761.8 569.3,752.3 571.3,760.6 573.3,758.3 575.4,756.2 577.4,750.3 579.4,756.2 581.1,745.4 582.8,749.8 584.5,741.7 586.2,739.2 587.9,738.4 589.6,736.5 591.6,729.7 593.7,729.3 595.7,730.2 597.7,729.6 599.7,725.8 601.8,722.5 603.8,719.6 605.8,715 607.8,720.3 609.9,720 612,727.7 614,726.1 616,731.6 618,727.5 620.1,734 622.1,733.5 624.1,729.2 626.1,721.7 628.2,723.8 630.2,720.8 632.2,710.9 634.2,718.6 636.3,730.6 638.3,730.4 640.3,732.2 642.4,726.1 644.4,720.1 646.4,725.8 648.5,727.9 650.5,734.1 652.5,740.2 654.2,744.8 656,737.8 657.7,742.7 659.5,738.1 661.2,737.8 663,734.9 664.7,734.8 666.7,730.2 668.8,727.7 670.8,719.2 672.9,722.4 674.9,715.6 676.9,708.5 679,703 681,707.2 683,711.5 685,714.1 687.1,712.6 689.1,717.5 691.1,717.5 693.2,723.3 695.2,722.1 697.2,727.7 699.2,719.6 701.2,722 703.3,714.1 705.3,702.3 707,700.7 708.7,709.8 710.4,704.9 712.1,703.4 713.8,705.6 715.5,708.7 717.5,708.6 719.5,706.8 721.6,700.9 723.6,699.8 725.6,692.2 727.7,692.8 729.7,687.5 731.8,691.3 733.8,685 735.5,682.8 737.3,686 739,686.3 740.7,689.8 742.4,690.5 744.2,691.5 745.9,693.2 747.6,690.1 749.3,691.5 751,685.4 752.7,685.1 754.4,688.9 756.1,682 757.8,688.5 759.6,685.2 761.3,675.6 763.1,682.9 764.8,682.8 766.6,679.1 768.3,679.7 770.3,679.8 772.3,678.2 774.4,684 776.4,682.5 776.4,699.5 774.4,706.7 772.3,703.5 770.3,702.7 768.3,701.5 766.6,695.2 764.8,696.1 763.1,705.3 761.3,705.7 759.6,710.3 757.8,707.7 756.1,706.5 754.4,703.5 752.7,706.5 751,705.6 749.3,713.4 747.6,711.3 745.9,713.6 744.2,707.2 742.4,716.9 740.7,708.8 739,706.6 737.3,708.3 735.5,708.4 733.8,711.8 731.8,713.5 729.7,712.7 727.7,719.7 725.6,723.1 723.6,722.5 721.6,723.5 719.5,726.2 717.5,726.7 715.5,730.3 713.8,728.5 712.1,723.8 710.4,725.2 708.7,726.6 707,730.2 705.3,727.9 703.3,728.6 701.2,739.3 699.2,748 697.2,747.3 695.2,744.1 693.2,742.4 691.1,740.5 689.1,742.7 687.1,734.8 685,736 683,727.4 681,730.6 679,731.5 676.9,731.9 674.9,738.4 672.9,741.7 670.8,741.8 668.8,757.6 666.7,752.1 664.7,756.2 663,759.3 661.2,761 659.5,757.5 657.7,763.7 656,756.9 654.2,764.2 652.5,760.8 650.5,760.4 648.5,755.1 646.4,745.8 644.4,745.2 642.4,752.6 640.3,755.6 638.3,755 636.3,745.1 634.2,740.9 632.2,733.7 630.2,739.7 628.2,747.8 626.1,746.4 624.1,757.1 622.1,756.3 620.1,753.1 618,750.5 616,752.9 614,748.8 612,747.9 609.9,749 607.8,743.2 605.8,738.7 603.8,744 601.8,751.9 599.7,753.8 597.7,758.5 595.7,748.1 593.7,758.4 591.6,756.6 589.6,749.2 587.9,763.3 586.2,760.9 584.5,762.6 582.8,764.6 581.1,769.7 579.4,774.1 577.4,776.3 575.4,770.3 573.3,774.2 571.3,778 569.3,782.6 567.3,781.9 565.2,790.7 563.2,793.8 561.2,797 559.2,792.9 557.1,777.2 555,781.5 553,768.7 551,771.3 549,780.9 547,785.9 545,794.4 542.9,782.1 540.9,782.4 539.2,783.9 537.4,788.4 535.7,783.7 533.9,778.9 532.2,771.3 530.4,781.4 528.7,779.4 527,771.4 525.3,774.1 523.6,765.4 521.9,767.9 520.2,764.8 518.5,764.6 516.5,767.3 514.4,777.9 512.4,782.5 510.4,779.8 508.4,774 506.3,770.9 504.3,771.7 502.6,778.1 500.8,775.1 499.1,781.5 497.3,776.8 495.6,774.3 493.8,777.4 492.1,782 490.1,781.5 488,782.7 486,784.5 484,784.7 482,788.6 480,794.8 478,798.1 475.9,788.1 473.9,781.8 471.9,782.7 469.8,768.3 467.8,760.1 465.8,769.4 463.7,781 461.7,769.8 459.6,767.3 457.6,758.7 455.6,758.9 453.6,762.9 451.5,769.1 449.5,761.1 447.5,768.4 445.4,770.2 443.4,771.6 441.4,775.5 439.3,777.2 437.3,774.2 435.2,765.9 433.2,765 431.2,762.5 429.2,765.1 427.1,770 425.1,774.3 423.1,778.4 421.1,780.6 419,774.3 417,777.9 414.9,780.3 412.9,785" fill="#e9e9e9"/>
<polygon points="415,731.1 416.7,738.4 418.4,739.5 420.1,741.9 422.6,759.5 425.1,772.4 427.1,765.8 429.2,764 431.2,764.9 433.2,765.5 435.2,770.6 437.3,765.4 439.3,766.2 441.4,762.2 443.4,760.2 445.4,756.2 447.5,747.9 449.5,754.8 451.6,752.1 453.6,757.7 455.6,758.1 457.6,756.1 459.7,757.7 461.7,758.1 463.4,752.1 465.1,740.4 466.8,722.2 469.3,719.8 471.8,724.3 473.8,727 475.9,726.9 477.9,729.4 479.9,740.5 482,739.6 484,748.5 486.1,764.5 488.1,781.5 490.1,795.8 492.1,817.2 494.1,830.2 496.2,847.3 497.9,859.7 499.6,878.4 501.3,881.5 503.1,889.3 504.9,896.4 506.6,911.3 508.4,921.8 510.4,921.6 512.4,918.9 514.5,925.5 516.5,928.6 518.5,923.5 520.5,920.8 522.6,925.2 524.6,929.4 526.6,927.5 528.7,919 530.7,923.4 532.7,918.4 534.7,917.7 536.8,912 538.8,921.4 540.9,914.7 542.9,917.2 544.9,912.1 546.9,908.2 549,911.7 551,905.9 553,912.4 555,907.5 557.1,905.5 559.2,908.8 561.2,911.2 563.2,907.3 565.2,900.2 567.2,892.1 569.3,891.5 571.4,888.9 573.4,894.3 575.4,884 577.4,876.6 579.4,875.1 581.4,881.8 583.5,890.7 585.5,891.4 587.5,888.6 589.6,888.6 591.7,884.2 593.7,875.7 595.7,870.3 597.8,878 599.8,871.6 601.8,862.6 603.8,862.1 605.9,851.9 607.9,841.6 609.9,838.7 612,835.1 614,833.8 616,832.6 618,831.6 620.1,832.5 622.1,822.9 624.1,826.2 626.2,815.1 628.2,816.4 630.2,815.7 632.2,814.5 634.2,805.2 636.3,801.8 638.3,802 640.3,805.2 642.4,811.3 644.4,805.3 646.4,800.3 648.5,800.4 650.5,785.4 652.5,784 654.5,784 656.6,784.2 658.6,771.3 660.6,772.4 662.7,772.7 664.8,783.6 666.8,775.6 668.8,777.6 670.8,778.5 672.9,770.2 674.9,765.5 676.9,769.1 679,763.8 681,758.4 683,761.9 685,754.2 687,752.7 689.1,746 691.1,752.1 693.2,747.2 695.2,738.6 697.2,741.1 699.2,736.4 701.3,737.1 703.3,741.2 705.3,745.8 707.3,746.3 709.4,742 711.4,738.9 713.4,737.7 715.5,737.8 717.5,737.6 719.5,727.4 721.6,731.1 723.6,727.6 725.7,722.4 727.7,715.7 729.7,711.4 731.8,710 733.8,708.2 735.8,709.5 737.8,709.5 739.8,704 741.9,700.4 743.9,705.3 745.9,698.1 748,695.4 750,692 752,695.4 754,690.1 756.1,695.5 758.1,692.4 760.1,695.1 762.2,690.2 764.2,688.5 766.8,699.1 769.3,717 772.3,707 774.3,694.4 776.4,681.8 776.4,714.5 774.3,723.5 772.3,726.3 769.3,746.5 766.8,726.9 764.2,717.7 762.2,713.1 760.1,715.3 758.1,716.4 756.1,718 754,712.7 752,721.3 750,717.1 748,724.8 745.9,725.1 743.9,723.7 741.9,727.7 739.8,729.5 737.8,727.8 735.8,735.6 733.8,731.8 731.8,736.3 729.7,738.2 727.7,740.6 725.7,741.6 723.6,750.1 721.6,754.2 719.5,750.8 717.5,757.7 715.5,762.3 713.4,764.9 711.4,765.7 709.4,769 707.3,766 705.3,764.3 703.3,767.7 701.3,765.2 699.2,767.1 697.2,757.9 695.2,765.7 693.2,763.4 691.1,777.1 689.1,776.6 687,775.4 685,785 683,786.9 681,783.3 679,783.9 676.9,788.3 674.9,793 672.9,795.8 670.8,796.7 668.8,797 666.8,806.3 664.8,807.8 662.7,801.1 660.6,799.3 658.6,803.8 656.6,803.1 654.5,809.1 652.5,811.1 650.5,819.1 648.5,820.3 646.4,830.9 644.4,828.9 642.4,831.9 640.3,836.2 638.3,831.7 636.3,827.6 634.2,827.8 632.2,841 630.2,840.5 628.2,842.7 626.2,839.2 624.1,850.8 622.1,851.9 620.1,850.8 618,854.5 616,859.8 614,862.5 612,864.6 609.9,861.3 607.9,872 605.9,879.5 603.8,886 601.8,887.4 599.8,899.7 597.8,907.2 595.7,911.3 593.7,910.5 591.7,917.1 589.6,916.8 587.5,924.3 585.5,916.7 583.5,917.7 581.4,919.2 579.4,910.5 577.4,913.7 575.4,926.5 573.4,927.2 571.4,925 569.3,925.1 567.2,930.3 565.2,927.8 563.2,944.1 561.2,944.1 559.2,943.4 557.1,941.7 555,943.5 553,938.5 551,937.8 549,944.5 546.9,945.5 544.9,955.7 542.9,952 540.9,954.2 538.8,959.2 536.8,959.9 534.7,956.6 532.7,956.1 530.7,959.2 528.7,965.8 526.6,966 524.6,967.3 522.6,965.8 520.5,969 518.5,969.2 516.5,963.9 514.5,962.9 512.4,959.8 510.4,963.1 508.4,959.3 506.6,954.6 504.9,944.1 503.1,929.3 501.3,926 499.6,915.6 497.9,898.8 496.2,888.5 494.1,853.1 492.1,831.1 490.1,817.7 488.1,796.7 486.1,788.7 484,766.4 482,759.7 479.9,756.4 477.9,746.6 475.9,751.2 473.8,748.6 471.8,746.3 469.3,742.8 466.8,741.1 465.1,762.4 463.4,771.2 461.7,782.7 459.7,777.7 457.6,777.1 455.6,780.5 453.6,771.5 451.6,772 449.5,771.8 447.5,775.3 445.4,771.2 443.4,777 441.4,776 439.3,780.7 437.3,784.6 435.2,783.9 433.2,783.3 431.2,781.6 429.2,789.8 427.1,785 425.1,795.5 422.6,777.2 420.1,759.8 418.4,756.9 416.7,754.3 415,750.4" fill="#e9e9e9"/>
<polyline points="412.9,770.7 414.9,766.2 417,763.6 419,762.5 421.1,765.7 423.1,765.6 425.1,761.3 427.1,761.7 429.2,758.8 431.2,755.1 433.2,755.4 435.2,758.8 437.3,759.8 439.3,765.6 441.4,763.2 443.4,759.3 445.4,757.4 447.5,757.5 449.5,755.1 451.5,755.1 453.6,749.4 455.6,747.9 457.6,747.3 459.6,754.7 461.7,763.2 463.7,767.6 465.8,760.9 467.8,753.4 469.8,759.6 471.9,769.4 473.9,773.7 475.9,774.7 478,782.4 480,783.9 482,778.7 484,773.9 486,771.7 488,769 490.1,769.3 492.1,769.6 493.8,770.7 495.6,766.8 497.3,768.3 499.1,768 500.8,766.1 502.6,766.4 504.3,765.6 506.3,764.3 508.4,765.3 510.4,767.1 512.4,769.6 514.4,765.1 516.5,758.4 518.5,753.4 520.2,754.1 521.9,757.2 523.6,758.3 525.3,759.2 527,763.4 528.7,763.6 530.4,766.1 532.2,765.2 533.9,768.3 535.7,769.5 537.4,772.8 539.2,773.5 540.9,773.7 542.9,774 545,778.9 547,777.8 549,769 551,763.8 553,757.5 555,765.9 557.1,769.9 559.2,778.7 561.2,785.9 563.2,778.9 565.2,777.6 567.3,773.6 569.3,767.6 571.3,767.2 573.3,768 575.4,764.2 577.4,765.4 579.4,763.6 581.1,760.7 582.8,757.2 584.5,753.2 586.2,751.8 587.9,748.9 589.6,743.2 591.6,743.1 593.7,744.1 595.7,740.9 597.7,743.2 599.7,740.7 601.8,736.9 603.8,735.1 605.8,729 607.8,733.2 609.9,733 612,736.1 614,739.2 616,742.6 618,741.8 620.1,746.6 622.1,749.3 624.1,742.7 626.1,737.6 628.2,732.4 630.2,731.3 632.2,725 634.2,729.8 636.3,737.2 638.3,745.3 640.3,740 642.4,737.8 644.4,731.1 646.4,733.5 648.5,739.9 650.5,745 652.5,749.3 654.2,751 656,750.4 657.7,750.3 659.5,747 661.2,747.4 663,746.9 664.7,747.3 666.7,745.6 668.8,742.4 670.8,734.5 672.9,731 674.9,729 676.9,722.9 679,718.1 681,714.8 683,718.8 685,723.4 687.1,725.8 689.1,731.1 691.1,730.5 693.2,734.7 695.2,736.5 697.2,739.2 699.2,732.9 701.2,728.4 703.3,720.4 705.3,712.8 707,714.2 708.7,716.1 710.4,717.8 712.1,715.9 713.8,721.6 715.5,720.9 717.5,719.8 719.5,717.8 721.6,714.9 723.6,710.8 725.6,708.2 727.7,706.2 729.7,702.6 731.8,703.3 733.8,700.6 735.5,698.6 737.3,698.9 739,699.9 740.7,700 742.4,701.2 744.2,700 745.9,702.6 747.6,699 749.3,698.8 751,697.5 752.7,697.8 754.4,695 756.1,696.5 757.8,697.3 759.6,694.8 761.3,691.2 763.1,690.6 764.8,689.9 766.6,688.9 768.3,688.4 770.3,687.7 772.3,692.8 774.4,694.8 776.4,693.5" fill="none" stroke="#000" stroke-width="5.4" stroke-linejoin="round" stroke-linecap="round"/>
<polyline points="415,741.2 416.7,743.1 418.4,745.2 420.1,747.3 422.6,763.8 425.1,783.9 427.1,778.7 429.2,776.4 431.2,773.7 433.2,772.7 435.2,775.1 437.3,772.2 439.3,773.7 441.4,768.6 443.4,769.6 445.4,764.7 447.5,761.5 449.5,761 451.6,763.7 453.6,762.5 455.6,765.6 457.6,767.1 459.7,770.4 461.7,769.6 463.4,759.7 465.1,747.5 466.8,735.1 469.3,733 471.8,733.1 473.8,735.2 475.9,737 477.9,741.2 479.9,748.5 482,753.5 484,759.5 486.1,773.9 488.1,785.9 490.1,803.4 492.1,822.4 494.1,839.5 496.2,859 497.9,871.2 499.6,882.8 501.3,891.5 503.1,903.2 504.9,913.1 506.6,923.4 508.4,932.1 510.4,934.4 512.4,933.3 514.5,935.8 516.5,936.3 518.5,938.2 520.5,937.5 522.6,938.8 524.6,942.2 526.6,937.7 528.7,934 530.7,932.4 532.7,928 534.7,929.6 536.8,927 538.8,928.7 540.9,928.5 542.9,926 544.9,926.8 546.9,923 549,921.1 551,919.9 553,919.9 555,919.6 557.1,920.6 559.2,923.5 561.2,924 563.2,917.6 565.2,907.7 567.2,907.7 569.3,904.6 571.4,903.8 573.4,901.6 575.4,899.6 577.4,893 579.4,891.5 581.4,894.9 583.5,898.7 585.5,899.6 587.5,898.3 589.6,895.6 591.7,891.9 593.7,889.4 595.7,885.5 597.8,885.6 599.8,881.1 601.8,879.3 603.8,872.5 605.9,865.1 607.9,854.9 609.9,852.4 612,850.4 614,850.8 616,846.8 618,845.1 620.1,839.9 622.1,838.7 624.1,833.5 626.2,830.1 628.2,829.8 630.2,824.5 632.2,823.3 634.2,817.8 636.3,818.3 638.3,814.3 640.3,818.4 642.4,819.1 644.4,820.4 646.4,813.6 648.5,808.4 650.5,802.1 652.5,796.9 654.5,792.9 656.6,793.5 658.6,787.9 660.6,789.1 662.7,789.1 664.8,791.4 666.8,790 668.8,787.2 670.8,786.5 672.9,783.8 674.9,779.8 676.9,776.5 679,774.7 681,772.8 683,771.7 685,768 687,767 689.1,763 691.1,761.5 693.2,755 695.2,749.3 697.2,748.7 699.2,753.2 701.3,751.7 703.3,753.4 705.3,753.2 707.3,753.8 709.4,755.2 711.4,753.4 713.4,750.4 715.5,749.8 717.5,745.3 719.5,742.6 721.6,740 723.6,737.2 725.7,731.2 727.7,725 729.7,722.4 731.8,723.7 733.8,722 735.8,722.9 737.8,718.7 739.8,720.2 741.9,715.4 743.9,714.8 745.9,712.7 748,711.7 750,708.7 752,706.9 754,703.9 756.1,702.7 758.1,700.6 760.1,702.2 762.2,704.6 764.2,704.7 766.8,715.1 769.3,729 772.3,716.9 774.3,707 776.4,696.5" fill="none" stroke="#a3172f" stroke-width="5.4" stroke-linejoin="round" stroke-linecap="round"/>
<line x1="474.9" y1="677.3" x2="474.9" y2="710" stroke="#555" stroke-width="2.2"/>
<polygon points="468.4,708 474.9,713 481.4,708 474.9,723" fill="#555"/>
<line x1="386.1" y1="791" x2="386.1" y2="857.4" stroke="#000" stroke-width="1.8"/>
<line x1="385.2" y1="856.5" x2="475.9" y2="856.5" stroke="#000" stroke-width="1.8"/>
<text x="386.5" y="885" font-size="30">10 min</text>
<text x="376" y="872.5" font-size="29.2" transform="rotate(-90 376 872.5)">&#916;<tspan font-style="italic">F</tspan>/<tspan font-style="italic">F</tspan> 2%</text>
<line x1="900.8" y1="679.8" x2="900.8" y2="952.7" stroke="#000" stroke-width="1.3"/>
<line x1="888.3" y1="680.4" x2="900.8" y2="680.4" stroke="#000" stroke-width="1.3"/>
<text transform="translate(876 690.1) scale(0.95 1)" font-size="30" text-anchor="end">4</text>
<line x1="888.3" y1="734.8" x2="900.8" y2="734.8" stroke="#000" stroke-width="1.3"/>
<text transform="translate(876 744.5) scale(0.95 1)" font-size="30" text-anchor="end">2</text>
<line x1="888.3" y1="789.2" x2="900.8" y2="789.2" stroke="#000" stroke-width="1.3"/>
<text transform="translate(876 798.9) scale(0.95 1)" font-size="30" text-anchor="end">0</text>
<line x1="888.3" y1="843.6" x2="900.8" y2="843.6" stroke="#000" stroke-width="1.3"/>
<text transform="translate(876 853.3) scale(0.95 1)" font-size="30" text-anchor="end">−2</text>
<line x1="888.3" y1="898" x2="900.8" y2="898" stroke="#000" stroke-width="1.3"/>
<text transform="translate(876 907.7) scale(0.95 1)" font-size="30" text-anchor="end">−4</text>
<line x1="888.3" y1="952.1" x2="900.8" y2="952.1" stroke="#000" stroke-width="1.3"/>
<text transform="translate(876 961.8) scale(0.95 1)" font-size="30" text-anchor="end">−6</text>
<line x1="888.3" y1="788.7" x2="1101.4" y2="788.7" stroke="#333" stroke-width="1.5"/>
<rect x="929.5" y="762.8" width="56.3" height="26.4" fill="#000"/>
<rect x="1015" y="788.7" width="56.4" height="107.9" fill="#a00000"/>
<line x1="888.3" y1="788.7" x2="1101.4" y2="788.7" stroke="#333" stroke-width="1.5"/>
<circle cx="957.4" cy="729" r="3.2" fill="#666"/>
<circle cx="957.4" cy="742.3" r="3.2" fill="#666"/>
<circle cx="957.4" cy="748.9" r="3.2" fill="#666"/>
<circle cx="957.4" cy="758.2" r="3.2" fill="#666"/>
<circle cx="957.4" cy="781.3" r="3.2" fill="#666"/>
<circle cx="957.4" cy="812.6" r="3.2" fill="#666"/>
<circle cx="1043" cy="815.8" r="3.2" fill="#666"/>
<circle cx="1043" cy="853.8" r="3.2" fill="#666"/>
<circle cx="1043" cy="931.6" r="3.2" fill="#666"/>
<circle cx="1049" cy="939.6" r="3.2" fill="#666"/>
<circle cx="1036.8" cy="942.3" r="3.2" fill="#666"/>
<line x1="957.4" y1="749.4" x2="957.4" y2="774.7" stroke="#555" stroke-width="1.5"/>
<line x1="943.4" y1="749.4" x2="971.4" y2="749.4" stroke="#555" stroke-width="1.5"/>
<line x1="943.4" y1="774.7" x2="971.4" y2="774.7" stroke="#555" stroke-width="1.5"/>
<line x1="1043" y1="870.5" x2="1043" y2="922.3" stroke="#555" stroke-width="1.5"/>
<line x1="1029" y1="870.5" x2="1057" y2="870.5" stroke="#555" stroke-width="1.5"/>
<line x1="1029" y1="922.3" x2="1057" y2="922.3" stroke="#555" stroke-width="1.5"/>
<line x1="954" y1="677.2" x2="1034.4" y2="677.2" stroke="#000" stroke-width="1.3"/>
<text x="993.5" y="683" font-size="33" text-anchor="middle">***</text>
<text x="823.5" y="817.3" font-size="29" text-anchor="middle" transform="rotate(-90 823.5 817.3)">AUC normalized</text>
<text x="970" y="968" font-size="29" text-anchor="end" transform="rotate(-45 970 968)">Saline</text>
<text x="1054.5" y="968" font-size="29.6" text-anchor="end" transform="rotate(-45 1054.5 968)">Ketamine</text>
<text transform="translate(1130.5 651) scale(1.13 1)" font-size="33" font-weight="bold" stroke="#000" stroke-width="0.9">e</text>
<svg x="1131.8" y="660" width="309.5" height="308" viewBox="1131.8 660 309.5 308" overflow="hidden">
<rect x="1131.8" y="660" width="309.5" height="308" fill="#168f25"/>
<g filter="url(#blur10)">
<rect x="1390" y="640" width="80" height="340" fill="#0f6a30"/>
<ellipse cx="1430" cy="780" rx="30" ry="110" fill="#0e5c36"/>
<ellipse cx="1405" cy="935" rx="50" ry="50" fill="#0a4a26"/>
<ellipse cx="1250" cy="860" rx="70" ry="60" fill="#169424"/>
<ellipse cx="1160" cy="820" rx="25" ry="90" fill="#148c22"/>
</g>
<rect x="1131.8" y="660" width="309.5" height="308" fill="#000" filter="url(#spkB)" opacity="0.4"/>
<rect x="1370" y="660" width="71.3" height="308" fill="#000" filter="url(#spkB)" opacity="0.15"/>
<rect x="1131.8" y="660" width="309.5" height="308" fill="#000" filter="url(#spkD)" opacity="0.25"/>
<rect x="1131.8" y="660" width="309.5" height="308" fill="#000" filter="url(#spkG)" opacity="0.8"/>
<g filter="url(#blur1)">
<polygon points="1342.3,696 1352,672 1360,662 1368,664 1366,680 1363.4,692" fill="#03140c" opacity="0.75"/>
<polygon points="1342.3,694.5 1332.3,713.4 1322.3,731.2 1313.4,751.2 1305.6,771.2 1301.1,793.4 1298.3,810.1 1300,824.6 1305.6,827.9 1313.4,830.1 1323.4,829 1324.5,817.9 1331.1,804.5 1342.3,782.3 1351.2,757.8 1356.7,737.8 1362.3,710 1363.4,691.1" fill="#000"/>
</g>
<line x1="1205.6" y1="660" x2="1193.4" y2="968" stroke="#1a3fb0" stroke-width="1.5"/>
<polyline points="1205.6,660 1200,764.5 1193.4,968" fill="none" stroke="#e6e6e6" stroke-width="2.4" stroke-dasharray="8 5.5" stroke-linejoin="round"/>
<polyline points="1135.6,697.8 1203.4,660" fill="none" stroke="#e6e6e6" stroke-width="2.4" stroke-dasharray="8 5.5" stroke-linejoin="round"/>
<polyline points="1207,660 1396.9,790.1 1335.7,878 1320.1,965.8 1193.4,961.3 1131.8,962.5" fill="none" stroke="#e6e6e6" stroke-width="2.4" stroke-dasharray="8 5.5" stroke-linejoin="round"/>
<polyline points="1138.9,785.7 1199,764.5 1359,826.8" fill="none" stroke="#e6e6e6" stroke-width="2.4" stroke-dasharray="8 5.5" stroke-linejoin="round"/>
<polyline points="1131.8,880.2 1199,885.7 1335.7,878" fill="none" stroke="#e6e6e6" stroke-width="2.4" stroke-dasharray="8 5.5" stroke-linejoin="round"/>
<text x="1137.5" y="736.7" font-size="27" fill="#fff">Cg1</text>
<text x="1140" y="824.6" font-size="27" fill="#fff">PrL</text>
<text x="1146.5" y="914.6" font-size="27" fill="#fff">IL</text>
<rect x="1395.7" y="946.4" width="34.5" height="5.4" fill="#fff"/>
</svg>
<polygon points="1471.7,811.1 1473.8,812 1475.9,811.5 1478,810.1 1479.8,807.5 1481.6,809.3 1483.4,804.4 1485.4,803.4 1487.5,803.7 1489.5,806 1491.5,802.4 1493.8,798.6 1496,794.5 1497.8,795.7 1499.6,796.5 1501.4,792.1 1503.2,789 1505,793.1 1506.8,798.1 1508.6,794.9 1510.4,792 1512.2,794.6 1514,793.6 1515.8,790.3 1517.6,786.3 1519.4,781.9 1521.7,783.5 1523.9,788.1 1526.2,794.5 1528.4,798.1 1530.7,821 1532.9,838.7 1535.2,825.6 1537.4,809.9 1539.2,801.6 1541,802.7 1542.8,794.2 1544.6,795.4 1546.4,797.8 1548.2,799.5 1550,801.4 1551.8,804.9 1553.6,799.3 1555.4,802 1557.2,795.2 1559,792 1560.8,796.2 1562.6,792.7 1564.4,797.5 1566.2,796.7 1568,790.9 1569.8,787.5 1571.6,789.2 1573.4,788.1 1575.2,784.5 1577,788.3 1578.8,784.9 1580.6,788.2 1582.4,790.5 1584.2,790.8 1586,791.2 1587.8,787.6 1589.6,785 1591.4,787.1 1593.2,788.9 1595,789.5 1596.8,790.4 1598.6,788.6 1600.4,784.3 1602.2,783.8 1604,778.6 1605.8,779.7 1607.6,779.7 1609.4,783.6 1611.2,780.2 1613,778.4 1614.8,778.6 1616.6,780.3 1618.4,785.8 1620.2,786.3 1622,782.4 1623.8,783.1 1625.6,778.6 1627.4,775.8 1629.2,776.9 1631,778.9 1632.8,772.5 1634.6,774.4 1636.4,773.4 1638.2,770.5 1640,769.6 1641.8,774 1643.6,767.8 1645.4,771.3 1647.2,771.4 1649,771.9 1650.8,768.7 1652.6,763.8 1654.4,760.5 1656.2,763.2 1658,759.9 1659.8,762.1 1661.6,764.3 1663.4,769.1 1665.2,771.6 1667,768.3 1668.8,768.6 1670.6,773.8 1672.4,771.7 1674.2,771.3 1676,769.9 1677.8,770.2 1679.6,767.1 1681.4,774.1 1683.2,773.2 1685,773.6 1686.8,767.3 1688.6,763.6 1690.4,755 1692.2,758.2 1694,757.9 1695.8,764.1 1697.6,761.6 1699.4,760.8 1701.2,761 1703,764.1 1704.8,767.7 1706.6,768.5 1708.4,770.2 1710.2,773.8 1712,774.2 1713.8,772.9 1715.6,773.1 1717.4,778.6 1719.2,775.1 1721,775.5 1722.8,772.9 1724.6,771.6 1726.4,767.8 1728.2,771.3 1730,765.9 1731.8,766.1 1733.6,766.1 1735.4,762.3 1737.2,755.6 1739,753 1740.8,759.6 1742.6,757.1 1744.4,766.3 1746.2,767.2 1748,766.5 1749.8,760 1751.6,756.9 1753.4,755.4 1755.2,761.6 1757,761.1 1758.8,766.4 1760.6,767.8 1762.4,765 1764.2,758.9 1766,758.4 1767.8,761 1769.6,765.5 1771.4,769.2 1773.2,772.3 1775,767.7 1776.8,767.5 1778.6,762.1 1780.4,758.9 1782.2,765.6 1784,769.1 1785.8,768.9 1787.6,765.8 1789.4,774.2 1791.2,772.7 1793,768 1794.8,764.9 1796.6,763.6 1798.4,761.5 1800.5,757.8 1802.6,753.5 1804.7,749.5 1807,753.2 1809.2,759.5 1811,757.4 1812.8,754.2 1814.6,755.9 1816.4,755.5 1818.2,756.5 1820,766.6 1821.8,772.2 1823.9,767.3 1826,764.3 1828.1,762.4 1830.3,770.9 1832.6,778 1832.6,822.9 1830.3,814.2 1828.1,805.3 1826,806.5 1823.9,811.2 1821.8,814.4 1820,806.5 1818.2,801.2 1816.4,798 1814.6,798.3 1812.8,798.2 1811,798.9 1809.2,801.1 1807,796.5 1804.7,794.3 1802.6,793.7 1800.5,798.1 1798.4,800.8 1796.6,802.3 1794.8,808.8 1793,810.9 1791.2,810.2 1789.4,810.6 1787.6,806.5 1785.8,806.2 1784,804.2 1782.2,803 1780.4,796.6 1778.6,798.2 1776.8,801.8 1775,805.2 1773.2,807.1 1771.4,802.3 1769.6,801.6 1767.8,798.4 1766,792.9 1764.2,796.3 1762.4,799.9 1760.6,799.1 1758.8,804.7 1757,797.4 1755.2,793.3 1753.4,787.7 1751.6,791.9 1749.8,796.5 1748,796.2 1746.2,802.6 1744.4,796.6 1742.6,792 1740.8,791.7 1739,783.5 1737.2,788.1 1735.4,793.5 1733.6,796.2 1731.8,797.2 1730,794.6 1728.2,797.4 1726.4,800 1724.6,799.4 1722.8,803.3 1721,801.4 1719.2,800.4 1717.4,807.5 1715.6,801 1713.8,804.6 1712,800.5 1710.2,800.6 1708.4,796.3 1706.6,792.8 1704.8,790.4 1703,787.9 1701.2,789.3 1699.4,785.9 1697.6,787.6 1695.8,788.4 1694,785.9 1692.2,785.7 1690.4,782.6 1688.6,788 1686.8,790.1 1685,799.5 1683.2,799.7 1681.4,795.4 1679.6,793.7 1677.8,789.8 1676,790.8 1674.2,793.1 1672.4,793 1670.6,795.6 1668.8,791.4 1667,789.2 1665.2,790.2 1663.4,788.8 1661.6,783.9 1659.8,780.2 1658,780.2 1656.2,784.1 1654.4,783.7 1652.6,782.4 1650.8,786.4 1649,791.4 1647.2,793.1 1645.4,787.1 1643.6,786.6 1641.8,787.5 1640,788.5 1638.2,788.2 1636.4,790 1634.6,789 1632.8,791.6 1631,793.5 1629.2,793.1 1627.4,792.8 1625.6,794.2 1623.8,799.2 1622,799.9 1620.2,803.9 1618.4,800.5 1616.6,794.1 1614.8,793.3 1613,791.1 1611.2,793.3 1609.4,795.3 1607.6,791.5 1605.8,793 1604,792.4 1602.2,796.3 1600.4,792.3 1598.6,801 1596.8,801.7 1595,800.1 1593.2,798.8 1591.4,799.6 1589.6,796.6 1587.8,799.8 1586,803.6 1584.2,805.5 1582.4,800.5 1580.6,797.9 1578.8,797.4 1577,799.3 1575.2,799.9 1573.4,799.2 1571.6,802.2 1569.8,799.7 1568,801.5 1566.2,806.9 1564.4,808.6 1562.6,808.4 1560.8,808.9 1559,805.4 1557.2,808.5 1555.4,815.1 1553.6,812 1551.8,817.8 1550,813.3 1548.2,807.7 1546.4,809.3 1544.6,807.9 1542.8,808.3 1541,814.8 1539.2,814.7 1537.4,823 1535.2,836.2 1532.9,852.8 1530.7,831.5 1528.4,812.5 1526.2,807.1 1523.9,798.9 1521.7,799 1519.4,795.2 1517.6,799.4 1515.8,802.3 1514,805.4 1512.2,807.9 1510.4,805.3 1508.6,809.9 1506.8,805.7 1505,807.1 1503.2,803.1 1501.4,803.7 1499.6,807.1 1497.8,806.2 1496,808 1493.8,807.2 1491.5,813.6 1489.5,814.5 1487.5,816.1 1485.4,815.1 1483.4,817.5 1481.6,822.4 1479.8,817.9 1478,822 1475.9,823.5 1473.8,825.2 1471.7,822.9" fill="#e9e9e9"/>
<polygon points="1471.7,816 1474,807.4 1476.2,798.6 1478,798.9 1479.8,795.7 1481.6,796.2 1483.4,794.5 1485.2,794.7 1487,788.1 1488.8,791.8 1490.6,792.4 1492.4,790.9 1494.2,787.4 1496,785.8 1497.8,796.2 1499.6,803.5 1501.4,806.1 1503.2,814.9 1505,810.6 1506.8,803.2 1508.6,805.5 1510.4,805.3 1512.2,800.9 1514,805.5 1515.8,806.7 1517.6,800 1519.4,794.2 1521.2,784.7 1523.3,782.4 1525.4,782.8 1527.5,781.2 1529.8,809.2 1532,835.7 1533.8,820.1 1535.6,806.3 1537.4,809.6 1539.2,805 1541,807 1542.8,816.9 1544.6,826.4 1546.4,833.3 1548.2,843.8 1550,852.3 1551.8,863.9 1553.6,869.6 1555.4,875.8 1557.2,883.2 1559,891.6 1560.8,892.9 1562.6,898.9 1564.4,900.6 1566.2,902.7 1568,900.5 1569.8,900.6 1571.6,909 1573.4,905.8 1575.2,901.9 1577,907.8 1578.8,906.5 1580.6,895.3 1582.4,891.5 1584.2,885.9 1586,882.1 1587.8,879.2 1589.6,873.7 1591.4,875.3 1593.2,872.8 1595,866.4 1596.8,864.7 1598.6,863.2 1600.4,863.3 1602.2,852.7 1604,847.1 1605.8,836.2 1607.6,834.8 1609.4,830.2 1611.2,825.4 1613,821 1614.8,814.3 1616.6,807.5 1618.4,804 1620.2,799.6 1622,797.1 1623.8,797 1625.6,787.6 1627.4,790.2 1629.2,784.9 1631,778.3 1632.8,778.5 1634.6,770.8 1636.4,767.5 1638.2,769.6 1640,763.2 1641.8,764.5 1643.6,753 1645.4,746.6 1647.2,746 1649,743.9 1650.8,743.3 1652.6,740.8 1654.4,747.9 1656.2,748.2 1658,744 1659.8,738.2 1661.6,734.9 1663.4,733.2 1665.2,731.1 1667,729.9 1668.8,724.6 1670.6,716.6 1672.4,719.5 1674.2,717.4 1676,715.2 1677.8,714 1679.6,708.1 1681.4,707.4 1683.2,711.4 1685,710.3 1687.2,703.4 1689.5,696.9 1691.6,702.4 1693.7,710.5 1695.8,709.2 1697.6,707.3 1699.4,705 1701.2,699.6 1703,704.9 1704.8,703.5 1706.6,708.5 1708.4,707 1710.2,709.7 1712,706.4 1713.8,708.3 1715.6,705.2 1717.4,706.1 1719.2,711.9 1721,707.5 1722.8,714 1724.6,712.6 1726.4,707.1 1728.2,703 1730,701.1 1731.8,704.6 1733.6,717.9 1735.4,715.7 1737.2,715.6 1739,716.1 1740.8,712.2 1742.6,711.8 1744.4,701.6 1746.2,700.2 1748,693.1 1749.8,694.5 1751.6,695.7 1753.4,699.4 1755.7,705.9 1757.9,713.4 1759.9,715.6 1762,709.3 1764,710 1766,705.1 1767.8,705 1769.6,711.4 1771.4,705.9 1773.2,706 1775,701.1 1776.8,696.4 1778.6,693.4 1780.4,685.4 1782.2,685.8 1784,678.6 1785.8,689.9 1787.6,692.1 1789.4,696.8 1791.2,695 1793,689.1 1794.8,683.7 1796.6,689.6 1798.4,694.6 1800.2,697.5 1802,695.2 1803.8,693.6 1805.6,687.3 1807.4,687.5 1809.2,690.7 1811,680.3 1812.8,685.5 1814.6,679.3 1816.4,683.1 1818.2,679.6 1820,687 1821.8,675.8 1823.6,668.1 1825.4,668.7 1827.2,671.8 1829,669.2 1830.8,668.9 1832.6,668.6 1832.6,739.4 1830.8,740 1829,741.5 1827.2,740 1825.4,741 1823.6,737.2 1821.8,745.5 1820,756 1818.2,748 1816.4,745.8 1814.6,749.3 1812.8,749.6 1811,752.1 1809.2,752.7 1807.4,753.9 1805.6,754.7 1803.8,753.7 1802,758.1 1800.2,757 1798.4,755.3 1796.6,754.2 1794.8,746.2 1793,751.8 1791.2,754.3 1789.4,757.3 1787.6,749.8 1785.8,746.7 1784,740.8 1782.2,741.6 1780.4,745.4 1778.6,749.7 1776.8,752.6 1775,758.5 1773.2,764.3 1771.4,763 1769.6,766.4 1767.8,761.2 1766,758.7 1764,762.5 1762,762.4 1759.9,765.2 1757.9,766.1 1755.7,754.6 1753.4,746.5 1751.6,746.4 1749.8,746 1748,744.2 1746.2,746.7 1744.4,750 1742.6,760.3 1740.8,761 1739,760.8 1737.2,761.9 1735.4,758.2 1733.6,759.3 1731.8,754.5 1730,745.3 1728.2,749.1 1726.4,746.6 1724.6,753.9 1722.8,756.3 1721,751.3 1719.2,749.4 1717.4,750.9 1715.6,746 1713.8,747.8 1712,746 1710.2,749.9 1708.4,749.9 1706.6,749.9 1704.8,743.7 1703,744.7 1701.2,740 1699.4,745.3 1697.6,741.7 1695.8,743.8 1693.7,743.5 1691.6,735.4 1689.5,728.9 1687.2,735.3 1685,739 1683.2,742.4 1681.4,740.2 1679.6,739.9 1677.8,743.9 1676,746.8 1674.2,745.4 1672.4,743.8 1670.6,749.7 1668.8,752.2 1667,757.2 1665.2,757.3 1663.4,763.3 1661.6,761.8 1659.8,765.3 1658,769 1656.2,768.7 1654.4,770.6 1652.6,768.9 1650.8,765.9 1649,767.2 1647.2,769 1645.4,764.8 1643.6,772.4 1641.8,787.3 1640,786.6 1638.2,784.8 1636.4,791.3 1634.6,791.8 1632.8,795.8 1631,803.1 1629.2,803 1627.4,805.3 1625.6,807.3 1623.8,812.5 1622,815.5 1620.2,822.3 1618.4,826.4 1616.6,827.1 1614.8,833.3 1613,845.1 1611.2,849.1 1609.4,845.1 1607.6,854.1 1605.8,854.7 1604,864.8 1602.2,873.7 1600.4,878.7 1598.6,886.8 1596.8,889.5 1595,888 1593.2,891.8 1591.4,898.3 1589.6,899 1587.8,903.7 1586,904.1 1584.2,909.1 1582.4,917.7 1580.6,918.5 1578.8,929 1577,931.2 1575.2,928.4 1573.4,930.6 1571.6,932.7 1569.8,929.5 1568,924 1566.2,928.1 1564.4,924.5 1562.6,923.8 1560.8,916.7 1559,916.6 1557.2,911 1555.4,903 1553.6,893.2 1551.8,887.5 1550,876.2 1548.2,867.8 1546.4,852 1544.6,848.6 1542.8,839.7 1541,830.6 1539.2,815.6 1537.4,822.7 1535.6,819.9 1533.8,832 1532,849.2 1529.8,820.5 1527.5,798.2 1525.4,794.6 1523.3,795.6 1521.2,798.8 1519.4,808.6 1517.6,813.6 1515.8,819 1514,814.3 1512.2,817 1510.4,816 1508.6,819.6 1506.8,816.1 1505,822.7 1503.2,825.9 1501.4,819.8 1499.6,815.9 1497.8,807.7 1496,798.4 1494.2,798.6 1492.4,801.7 1490.6,804.2 1488.8,800.3 1487,801.3 1485.2,803.5 1483.4,806.8 1481.6,810.3 1479.8,807.3 1478,811.1 1476.2,815 1474,820 1471.7,829.7" fill="#e9e9e9"/>
<polyline points="1471.7,818.4 1473.8,818.2 1475.9,817.4 1478,814.8 1479.8,812.3 1481.6,814.5 1483.4,811.2 1485.4,810.3 1487.5,811.4 1489.5,810.3 1491.5,807.6 1493.8,803.4 1496,802.2 1497.8,802 1499.6,801.1 1501.4,797.7 1503.2,796.9 1505,799.3 1506.8,802.2 1508.6,802.2 1510.4,799.5 1512.2,801.5 1514,798.6 1515.8,794.6 1517.6,794 1519.4,789.6 1521.7,790.7 1523.9,795 1526.2,800.4 1528.4,805.8 1530.7,827.9 1532.9,846.3 1535.2,829.3 1537.4,814.8 1539.2,809.6 1541,806.4 1542.8,802.2 1544.6,802 1546.4,801.4 1548.2,804 1550,806.2 1551.8,811.2 1553.6,806.8 1555.4,807.3 1557.2,803.2 1559,799.5 1560.8,802.7 1562.6,801 1564.4,804 1566.2,801.2 1568,795.9 1569.8,793.5 1571.6,794.5 1573.4,794.2 1575.2,792.3 1577,793.8 1578.8,791.4 1580.6,793 1582.4,794.5 1584.2,797.1 1586,796.8 1587.8,792.4 1589.6,791.4 1591.4,794.5 1593.2,793.8 1595,793.6 1596.8,795 1598.6,793.6 1600.4,788.6 1602.2,789.1 1604,784.2 1605.8,786.3 1607.6,787.2 1609.4,789.6 1611.2,789 1613,785.7 1614.8,784.2 1616.6,786.4 1618.4,792.5 1620.2,795 1622,790.3 1623.8,791 1625.6,785.8 1627.4,784.2 1629.2,784.1 1631,784.9 1632.8,782.4 1634.6,782 1636.4,780.6 1638.2,779.8 1640,778.4 1641.8,780.6 1643.6,779.1 1645.4,780.3 1647.2,782.4 1649,779.9 1650.8,776.1 1652.6,773.4 1654.4,772.3 1656.2,772.7 1658,769.8 1659.8,771.2 1661.6,774.6 1663.4,778.8 1665.2,780.6 1667,778.9 1668.8,779.9 1670.6,782.5 1672.4,784.2 1674.2,781.6 1676,781.8 1677.8,780.3 1679.6,780.6 1681.4,783.4 1683.2,785.8 1685,787.8 1686.8,780.5 1688.6,776.3 1690.4,769.8 1692.2,771 1694,770.9 1695.8,775.8 1697.6,775.2 1699.4,775 1701.2,775.5 1703,776.1 1704.8,778.8 1706.6,781.8 1708.4,785.2 1710.2,786 1712,788.6 1713.8,788.3 1715.6,789 1717.4,791.4 1719.2,787.9 1721,789.3 1722.8,787.6 1724.6,786 1726.4,784 1728.2,783.9 1730,781.7 1731.8,780.6 1733.6,779.8 1735.4,776.2 1737.2,771.4 1739,769.8 1740.8,775.2 1742.6,775 1744.4,780.7 1746.2,784.2 1748,781.1 1749.8,777.6 1751.6,774.2 1753.4,773.4 1755.2,778.8 1757,779.7 1758.8,786 1760.6,784 1762.4,783.4 1764.2,777.7 1766,777 1767.8,778.8 1769.6,783.8 1771.4,786.5 1773.2,789.6 1775,786.6 1776.8,783.8 1778.6,778.8 1780.4,779.8 1782.2,782.8 1784,786 1785.8,786.5 1787.6,786.7 1789.4,791.8 1791.2,791.4 1793,789.9 1794.8,786.9 1796.6,781.1 1798.4,780.6 1800.5,779.1 1802.6,775.7 1804.7,771.6 1807,775 1809.2,778.8 1811,779 1812.8,776.8 1814.6,774.9 1816.4,775.2 1818.2,779.5 1820,786 1821.8,793.2 1823.9,787.6 1826,785.3 1828.1,782.4 1830.3,791.6 1832.6,798.6" fill="none" stroke="#000" stroke-width="5.3" stroke-linejoin="round" stroke-linecap="round"/>
<polyline points="1471.7,820.2 1474,814.7 1476.2,807.6 1478,806.3 1479.8,802.2 1481.6,801.7 1483.4,798.6 1485.2,798.4 1487,796.8 1488.8,795.8 1490.6,796.5 1492.4,794.7 1494.2,793 1496,793.2 1497.8,800.1 1499.6,807.7 1501.4,811 1503.2,818.4 1505,817.5 1506.8,811.7 1508.6,811.2 1510.4,809.5 1512.2,808.7 1514,810 1515.8,810.1 1517.6,807.6 1519.4,799.6 1521.2,789.6 1523.3,788.6 1525.4,790.5 1527.5,788.7 1529.8,813.7 1532,840 1533.8,826.4 1535.6,814.8 1537.4,813.7 1539.2,809.4 1541,817.6 1542.8,825.5 1544.6,833 1546.4,840 1548.2,852.7 1550,861.5 1551.8,872.4 1553.6,880.5 1555.4,886.7 1557.2,894.1 1559,899.4 1560.8,902.7 1562.6,907.5 1564.4,910.2 1566.2,911.6 1568,911.6 1569.8,912.3 1571.6,915 1573.4,915.6 1575.2,913.3 1577,916 1578.8,913.8 1580.6,906.4 1582.4,899.9 1584.2,895.8 1586,891 1587.8,891 1589.6,885.5 1591.4,881.4 1593.2,879.6 1595,875.5 1596.8,873.3 1598.6,873.6 1600.4,870.6 1602.2,862.1 1604,853.4 1605.8,843.6 1607.6,841.8 1609.4,836.5 1611.2,835.9 1613,832.8 1614.8,825.1 1616.6,818.4 1618.4,815.5 1620.2,811.3 1622,805.8 1623.8,803.8 1625.6,796.9 1627.4,796.5 1629.2,791.4 1631,789.9 1632.8,786.9 1634.6,780.4 1636.4,778.8 1638.2,775.8 1640,773.6 1641.8,773.4 1643.6,761.6 1645.4,753.6 1647.2,755 1649,754.8 1650.8,754.1 1652.6,753.6 1654.4,756.1 1656.2,756.5 1658,757.2 1659.8,752.7 1661.6,748.4 1663.4,746.4 1665.2,741.2 1667,740.2 1668.8,735.6 1670.6,732.6 1672.4,731.3 1674.2,729.9 1676,728.4 1677.8,725.4 1679.6,725.3 1681.4,724.3 1683.2,724.9 1685,723 1687.2,718 1689.5,714 1691.6,718.1 1693.7,725.5 1695.8,728.4 1697.6,725.4 1699.4,723.8 1701.2,719.4 1703,722.9 1704.8,723.5 1706.6,728.4 1708.4,727.7 1710.2,727.4 1712,728.4 1713.8,726.3 1715.6,726.6 1717.4,728.8 1719.2,729.5 1721,729.5 1722.8,732 1724.6,731.2 1726.4,725.9 1728.2,726.5 1730,723 1731.8,728.9 1733.6,737.4 1735.4,736 1737.2,737.4 1739,739.2 1740.8,736.3 1742.6,733.2 1744.4,725.3 1746.2,723.3 1748,719.4 1749.8,720.6 1751.6,723 1753.4,723 1755.7,730.7 1757.9,741 1759.9,739.2 1762,736.8 1764,736.9 1766,733.8 1767.8,733.3 1769.6,736.5 1771.4,734.3 1773.2,735.6 1775,729.1 1776.8,725.6 1778.6,719.4 1780.4,716.4 1782.2,711.8 1784,710.4 1785.8,716.9 1787.6,720.7 1789.4,728.4 1791.2,725.4 1793,720.8 1794.8,715.8 1796.6,722.3 1798.4,726.6 1800.2,726 1802,723.9 1803.8,723 1805.6,721.9 1807.4,721.2 1809.2,721 1811,715.9 1812.8,717.4 1814.6,714 1816.4,713.9 1818.2,716.4 1820,719.4 1821.8,711.3 1823.6,705 1825.4,706.6 1827.2,705 1829,704.5 1830.8,706.5 1832.6,705" fill="none" stroke="#f0174a" stroke-width="5.3" stroke-linejoin="round" stroke-linecap="round"/>
<line x1="1532.5" y1="717.2" x2="1532.5" y2="750.5" stroke="#555" stroke-width="2.2"/>
<polygon points="1526,748.5 1532.5,753.5 1539,748.5 1532.5,763.5" fill="#555"/>
<line x1="1957.9" y1="678.9" x2="1957.9" y2="953.2" stroke="#000" stroke-width="1.3"/>
<line x1="1945.4" y1="679.5" x2="1957.9" y2="679.5" stroke="#000" stroke-width="1.3"/>
<text transform="translate(1937 689.2) scale(0.95 1)" font-size="30" text-anchor="end">6</text>
<line x1="1945.4" y1="747.7" x2="1957.9" y2="747.7" stroke="#000" stroke-width="1.3"/>
<text transform="translate(1937 757.4) scale(0.95 1)" font-size="30" text-anchor="end">4</text>
<line x1="1945.4" y1="815.9" x2="1957.9" y2="815.9" stroke="#000" stroke-width="1.3"/>
<text transform="translate(1937 825.6) scale(0.95 1)" font-size="30" text-anchor="end">2</text>
<line x1="1945.4" y1="884.1" x2="1957.9" y2="884.1" stroke="#000" stroke-width="1.3"/>
<text transform="translate(1937 893.8) scale(0.95 1)" font-size="30" text-anchor="end">0</text>
<line x1="1945.4" y1="952.6" x2="1957.9" y2="952.6" stroke="#000" stroke-width="1.3"/>
<text transform="translate(1937 962.3) scale(0.95 1)" font-size="30" text-anchor="end">−2</text>
<line x1="1945.4" y1="884.1" x2="2162.5" y2="884.1" stroke="#333" stroke-width="1.5"/>
<rect x="1986.7" y="850.7" width="57.6" height="33.4" fill="#000"/>
<rect x="2073.6" y="840" width="58.2" height="44.1" fill="#f0174a"/>
<line x1="1945.4" y1="884.1" x2="2162.5" y2="884.1" stroke="#000" stroke-width="1.5"/>
<circle cx="2015.5" cy="750.9" r="3.2" fill="#666"/>
<circle cx="2009.5" cy="849" r="3.2" fill="#666"/>
<circle cx="2021.7" cy="849" r="3.2" fill="#666"/>
<circle cx="2009.5" cy="861.5" r="3.2" fill="#666"/>
<circle cx="2021.7" cy="861.5" r="3.2" fill="#666"/>
<circle cx="2015.5" cy="875.1" r="3.2" fill="#666"/>
<circle cx="2015.5" cy="905" r="3.2" fill="#666"/>
<circle cx="2102.7" cy="737.9" r="3.2" fill="#666"/>
<circle cx="2102.7" cy="758.8" r="3.2" fill="#666"/>
<circle cx="2102.7" cy="799" r="3.2" fill="#666"/>
<circle cx="2102.7" cy="875.1" r="3.2" fill="#666"/>
<circle cx="2102.7" cy="882.7" r="3.2" fill="#666"/>
<circle cx="2102.7" cy="907.7" r="3.2" fill="#666"/>
<circle cx="2102.7" cy="917.5" r="3.2" fill="#666"/>
<line x1="2015.5" y1="831.9" x2="2015.5" y2="868.3" stroke="#555" stroke-width="1.5"/>
<line x1="2001.3" y1="831.9" x2="2029.7" y2="831.9" stroke="#555" stroke-width="1.5"/>
<line x1="2001.3" y1="868.3" x2="2029.7" y2="868.3" stroke="#555" stroke-width="1.5"/>
<line x1="2102.7" y1="812.1" x2="2102.7" y2="867.8" stroke="#555" stroke-width="1.5"/>
<line x1="2088.5" y1="812.1" x2="2116.9" y2="812.1" stroke="#555" stroke-width="1.5"/>
<line x1="2088.5" y1="867.8" x2="2116.9" y2="867.8" stroke="#555" stroke-width="1.5"/>
<line x1="2016.3" y1="678.1" x2="2096.5" y2="678.1" stroke="#000" stroke-width="1.3"/>
<text x="2006" y="668" font-size="29"><tspan font-style="italic">P</tspan> = 0.76</text>
<text x="1885" y="816.5" font-size="29" text-anchor="middle" transform="rotate(-90 1885 816.5)">AUC normalized</text>
<text x="2027.7" y="968" font-size="29" text-anchor="end" transform="rotate(-45 2027.7 968)">Saline</text>
<text x="2112" y="967" font-size="29.6" text-anchor="end" transform="rotate(-45 2112 967)">Ketamine</text>
<text transform="translate(0 1116) scale(1.13 1)" font-size="33" font-weight="bold" stroke="#000" stroke-width="0.9">f</text>
<svg x="20.2" y="1188" width="308.7" height="309.3" viewBox="20.2 1188 308.7 309.3" overflow="hidden">
<rect x="20.2" y="1188" width="308.7" height="309.3" fill="#138034"/>
<g filter="url(#blur10)">
<rect x="215" y="1170" width="140" height="350" fill="#0e5060"/>
<rect x="260" y="1170" width="90" height="350" fill="#0c4468"/>
<ellipse cx="300" cy="1200" rx="60" ry="40" fill="#0f5a50"/>
<ellipse cx="60" cy="1360" rx="45" ry="70" fill="#22c43c"/>
<ellipse cx="140" cy="1375" rx="65" ry="45" fill="#20b83c"/>
<ellipse cx="190" cy="1330" rx="30" ry="40" fill="#18983a"/>
<ellipse cx="70" cy="1460" rx="50" ry="40" fill="#147c3a"/>
<ellipse cx="150" cy="1460" rx="50" ry="40" fill="#126e40"/>
<ellipse cx="45" cy="1215" rx="35" ry="35" fill="#0e5a44"/>
<ellipse cx="180" cy="1205" rx="30" ry="25" fill="#0a3a30"/>
<ellipse cx="120" cy="1250" rx="30" ry="30" fill="#17903a"/>
</g>
<rect x="20.2" y="1188" width="308.7" height="309.3" fill="#000" filter="url(#spkB)" opacity="0.45"/>
<rect x="210" y="1188" width="119" height="309.3" fill="#000" filter="url(#spkB)" opacity="0.2"/>
<rect x="20.2" y="1188" width="308.7" height="309.3" fill="#000" filter="url(#spkD)" opacity="0.3"/>
<rect x="20.2" y="1188" width="308.7" height="309.3" fill="#000" filter="url(#spkG)" opacity="0.45"/>
<g filter="url(#blur1)">
<ellipse cx="181" cy="1238" rx="7" ry="16" transform="rotate(18 181 1238)" fill="#0a2a28" opacity="0.7"/>
<polygon points="126.3,1284.7 139.7,1281.8 146.4,1325.9 142.5,1341.2 134.9,1343.1 129.1,1337.3 119.6,1322 117.6,1310.5" fill="#030c10"/>
<polygon points="177,1235.9 188.5,1239.7 184.7,1253.1 173.2,1287.6 165.5,1322 157.9,1327.8 154,1320.1 159.8,1295.2 169.3,1260.8" fill="#030c10"/>
<polygon points="135,1283 150,1278 168,1262 163,1292 147,1298 138,1295" fill="#06181c"/>
<ellipse cx="148" cy="1308" rx="6.5" ry="13" transform="rotate(22 148 1308)" fill="#22c060"/>
</g>
<line x1="85.6" y1="1188" x2="75.2" y2="1497.3" stroke="#2a70c8" stroke-width="1.5"/>
<ellipse cx="77.5" cy="1365" rx="4" ry="8" fill="#061440"/>
<polyline points="85.6,1188 80.4,1297.5 75.2,1497.3" fill="none" stroke="#e6e6e6" stroke-width="2.4" stroke-dasharray="8 5.5" stroke-linejoin="round"/>
<polyline points="20.2,1223.6 83,1188" fill="none" stroke="#e6e6e6" stroke-width="2.4" stroke-dasharray="8 5.5" stroke-linejoin="round"/>
<polyline points="88.2,1188 271.1,1320.9 211.4,1413 198.4,1497.3" fill="none" stroke="#e6e6e6" stroke-width="2.4" stroke-dasharray="8 5.5" stroke-linejoin="round"/>
<polyline points="20.2,1315.7 80.4,1296.2 236.1,1358.5" fill="none" stroke="#e6e6e6" stroke-width="2.4" stroke-dasharray="8 5.5" stroke-linejoin="round"/>
<polyline points="25.9,1415.6 75.2,1420.7 211.4,1413" fill="none" stroke="#e6e6e6" stroke-width="2.4" stroke-dasharray="8 5.5" stroke-linejoin="round"/>
<text x="21.5" y="1276.8" font-size="27" fill="#fff">Cg1</text>
<text x="25" y="1367.6" font-size="27" fill="#fff">PrL</text>
<text x="37" y="1464.8" font-size="27" fill="#fff">IL</text>
<rect x="280.2" y="1474.7" width="33.7" height="5.7" fill="#fff"/>
</svg>
<polygon points="357.9,1309.1 360.1,1309.4 362.3,1313.8 364,1309.2 365.8,1306.9 367.5,1303.3 369.5,1298.9 371.4,1302.2 373.4,1299.3 375.4,1295.2 377.1,1299.1 378.9,1307.3 381,1314.4 383,1318.9 385.1,1322.6 386.8,1320.1 388.6,1315.2 390.3,1313 392.1,1312.7 393.8,1305.1 395.6,1305 397.4,1303.8 399.1,1307.6 400.9,1304.6 402.6,1306.2 404.4,1308.9 406.1,1301.2 407.9,1300.8 409.6,1302 411.4,1302.7 413.1,1292.6 414.9,1282.4 416.6,1281 418.4,1271.6 420.1,1264 421.9,1258.5 423.6,1251.8 425.4,1259.8 427.1,1259.8 428.9,1267 430.7,1273.3 432.4,1272.6 434.2,1282.8 435.9,1286.2 437.7,1295.8 439.4,1303.1 441.2,1295.2 442.9,1294.7 444.7,1304 446.4,1299.9 448.2,1307.6 449.9,1310.8 451.7,1316.4 453.4,1310.4 455.2,1301.5 457,1301.9 458.7,1300.7 460.5,1309.1 462.2,1310.1 464,1311.1 465.8,1309.5 467.5,1294.9 469.2,1293.1 471,1281 472.8,1283.1 474.5,1283.6 476.3,1281.9 478,1286.9 479.8,1295.6 481.5,1289.7 483.3,1285.5 485,1279.2 487.2,1286.2 489.4,1301.2 491.1,1294 492.9,1280.6 494.6,1288.5 496.4,1295.9 498.6,1296.8 500.8,1289.6 503,1290.4 505.2,1291.4 507.8,1283.1 509.6,1282.4 511.3,1280.4 513.1,1274.8 515.7,1291.9 517.9,1291 520.1,1280.1 521.8,1287.8 523.6,1284 525.3,1292.5 527.1,1278.1 529.1,1275 531.2,1270.1 533.2,1271.1 535.9,1285.5 537.6,1278.5 539.4,1277.2 541.1,1269.8 542.9,1261.9 544.6,1258.7 546.4,1255.6 548.1,1263.2 549.9,1266.1 551.6,1274.2 553.8,1282.9 556,1296 557.8,1289.8 559.5,1280.7 561.2,1277.2 563,1273.9 565.2,1277.1 567.4,1278.5 569.2,1279.4 570.9,1284.1 572.7,1292.1 575.3,1269.2 577.5,1267.4 579.7,1274.2 581.5,1273.2 583.2,1264.6 585,1259.7 586.7,1268.2 588.5,1274.1 590.2,1278.7 592,1284.7 593.7,1283.3 595.5,1294.8 597.2,1295.9 599,1296.3 600.8,1292.1 602.5,1283.1 604.2,1274.2 606,1267 607.8,1270.2 609.5,1267.9 611.3,1276.4 613,1271.4 614.8,1262.7 616.5,1253 618.3,1252.5 620,1258 621.8,1266.5 623.5,1262.8 625.3,1271.1 627,1271.7 628.8,1270.8 630.6,1271.1 632.4,1270.5 634.1,1273.4 635.9,1268.6 637.6,1266.1 639.3,1268.2 641.1,1264.5 642.8,1264.6 644.6,1258.9 646.3,1255.4 648.1,1260.7 649.9,1258 651.6,1258.4 653.4,1255.3 655.1,1254.6 656.9,1264.9 658.6,1274.2 660.4,1267.2 662.1,1261.1 663.9,1256.7 665.6,1252.9 667.4,1252 669.1,1263.8 670.9,1261 672.6,1269.7 674.4,1276.9 676.1,1277.9 677.9,1263.9 679.7,1254.4 681.4,1256.7 683.2,1261.6 684.9,1259.7 686.6,1263.8 688.4,1259.5 690.2,1260.1 691.9,1262.2 693.7,1265.5 695.4,1258 697.2,1259.6 698.9,1258.8 700.7,1258.9 702.5,1263.1 704.2,1265.3 706,1270.7 707.7,1273.9 709.5,1260.4 711.2,1253.3 713,1247.5 714.7,1244.4 716.5,1236.2 718.2,1238 720,1242.3 721.7,1244.8 721.7,1265.2 720,1257.7 718.2,1253.6 716.5,1252.2 714.7,1257.8 713,1261.9 711.2,1269.8 709.5,1278.9 707.7,1290.6 706,1282.7 704.2,1278.7 702.5,1276.1 700.7,1275.4 698.9,1275.9 697.2,1274.3 695.4,1273.8 693.7,1283.3 691.9,1280.7 690.2,1275.9 688.4,1271.1 686.6,1278.6 684.9,1283.2 683.2,1278.8 681.4,1277.6 679.7,1269.2 677.9,1282.5 676.1,1298.3 674.4,1290.2 672.6,1288.4 670.9,1282.7 669.1,1280.4 667.4,1271.9 665.6,1264.6 663.9,1278.2 662.1,1283.5 660.4,1283.4 658.6,1290.8 656.9,1275.4 655.1,1267.4 653.4,1267.8 651.6,1270 649.9,1274.4 648.1,1273.4 646.3,1271.5 644.6,1280.8 642.8,1277.6 641.1,1277.7 639.3,1282.5 637.6,1283.8 635.9,1282.1 634.1,1285.6 632.4,1288.2 630.6,1289.1 628.8,1284.6 627,1283.9 625.3,1282.2 623.5,1277.8 621.8,1279.8 620,1274.4 618.3,1265.1 616.5,1270.2 614.8,1276.9 613,1285.5 611.3,1293.2 609.5,1286.9 607.8,1291.9 606,1282.3 604.2,1292 602.5,1297 600.8,1306.1 599,1313.8 597.2,1308.2 595.5,1303.8 593.7,1305.6 592,1303.3 590.2,1297.2 588.5,1287.8 586.7,1283.1 585,1274.9 583.2,1283.7 581.5,1287.9 579.7,1290 577.5,1287 575.3,1286.2 572.7,1301.4 570.9,1303.1 569.2,1300.3 567.4,1295.5 565.2,1294.6 563,1287.7 561.2,1297 559.5,1296.7 557.8,1302.4 556,1307.3 553.8,1301.9 551.6,1294.7 549.9,1285.2 548.1,1279.1 546.4,1270.7 544.6,1277.8 542.9,1284.4 541.1,1280.1 539.4,1293.5 537.6,1295.2 535.9,1297.5 533.2,1286.6 531.2,1285.1 529.1,1290.7 527.1,1297.3 525.3,1307.9 523.6,1300.3 521.8,1300.3 520.1,1301.6 517.9,1305.3 515.7,1311.6 513.1,1290.7 511.3,1294.9 509.6,1296.2 507.8,1302 505.2,1312.8 503,1309 500.8,1307.2 498.6,1312.1 496.4,1317.9 494.6,1305.5 492.9,1300.7 491.1,1309.1 489.4,1316 487.2,1306.5 485,1293.3 483.3,1300.1 481.5,1302.5 479.8,1304.3 478,1304.8 476.3,1296.9 474.5,1299.4 472.8,1297.9 471,1304.4 469.2,1304.4 467.5,1313 465.8,1324.7 464,1323.8 462.2,1328.4 460.5,1327.4 458.7,1317.2 457,1320.3 455.2,1318.2 453.4,1324.2 451.7,1333.4 449.9,1324.8 448.2,1316.8 446.4,1315.8 444.7,1313 442.9,1314.7 441.2,1313.1 439.4,1313.4 437.7,1310.4 435.9,1300.9 434.2,1297.6 432.4,1291.8 430.7,1285.3 428.9,1279.9 427.1,1274.9 425.4,1271.5 423.6,1273.8 421.9,1273.4 420.1,1284 418.4,1289.8 416.6,1291.6 414.9,1298.9 413.1,1309.5 411.4,1317 409.6,1315.6 407.9,1320.1 406.1,1319.1 404.4,1322.4 402.6,1324 400.9,1319.3 399.1,1321.4 397.4,1320.7 395.6,1315.8 393.8,1319.8 392.1,1330.7 390.3,1329.2 388.6,1333.3 386.8,1338.2 385.1,1340 383,1341 381,1333.6 378.9,1325.4 377.1,1319.7 375.4,1310.9 373.4,1309.9 371.4,1317.4 369.5,1318.9 367.5,1325.5 365.8,1325.7 364,1329.3 362.3,1330.3 360.1,1331.2 357.9,1323.2" fill="#e9e9e9"/>
<polygon points="357.9,1282.6 360.5,1294.9 362.3,1297 364,1295.1 365.8,1295.3 367.5,1316.3 369.3,1311.3 371,1306.2 372.8,1305.8 374.6,1311.4 376.3,1317.5 378.1,1320.3 379.8,1319.1 381.6,1312.6 383.3,1305.9 385.1,1310.3 386.8,1318.4 388.6,1323.7 390.3,1322.7 392.1,1330.3 393.8,1329.7 395.6,1320.8 397.3,1305.8 399.1,1299.1 400.9,1297.9 402.6,1283 404.4,1275.8 406.1,1283.6 407.9,1292.6 409.6,1290.4 411.4,1290.7 413.1,1285.9 414.9,1289.9 416.6,1292.9 418.4,1268.9 420.1,1247.3 421.9,1257 423.6,1261.3 425.4,1268.6 427.2,1272.7 428.9,1276.1 430.7,1279.4 432.4,1292.5 434.1,1299.5 435.9,1302.7 437.7,1313.2 439.4,1331.3 441.2,1346.4 442.9,1359.4 444.7,1369.1 446.4,1379.3 448.2,1376.2 449.9,1380.7 451.7,1385.3 453.4,1386.4 455.2,1389.2 456.9,1394.6 458.7,1392.9 460.4,1389.5 462.2,1394.5 464,1393.7 465.7,1398.3 467.5,1394.1 469.2,1397 471,1397.8 472.8,1395.3 474.5,1393.2 476.3,1389.8 478,1392.2 479.8,1388.7 481.6,1394.3 483.3,1389.9 485.1,1391.4 486.8,1386.2 488.6,1379.4 490.3,1374.4 492,1373.1 493.8,1367.7 495.5,1370.6 497.3,1359.2 499,1362.6 500.8,1359.1 502.5,1361.9 504.3,1362.6 506,1366.9 507.8,1366.7 509.6,1355.6 511.3,1344.7 513.1,1348 514.8,1341.8 516.6,1346.9 518.3,1346.3 520.1,1346.6 521.9,1340.7 523.6,1341.1 525.4,1341.2 527.1,1336.9 528.9,1335.7 530.6,1334.2 532.4,1335.8 534.1,1329.2 535.9,1320.7 537.6,1319.6 539.4,1323 541.1,1326.7 542.9,1327.5 544.6,1329.3 546.4,1324.8 548.1,1327.2 549.9,1316.7 551.7,1311 553.4,1309.9 555.2,1304 556.9,1308.7 558.7,1312.8 560.4,1313.8 562.2,1316 563.9,1303.1 565.7,1297.7 567.7,1302.3 569.8,1313.2 571.8,1317.9 573.9,1306.7 575.9,1296.4 578,1297.5 579.7,1292.6 581.5,1300.1 583.2,1295.3 585,1298.7 586.7,1301.9 588.5,1306.4 590.2,1296.3 592,1290.4 593.7,1290.6 595.5,1275.8 597.2,1274.4 599,1277.5 600.7,1293 602.5,1288.2 604.2,1287.8 606,1281.2 607.8,1281.7 609.5,1282.9 611.3,1291.6 613,1289.3 614.8,1281.2 616.5,1272.8 618.3,1268.3 620,1265.3 621.8,1268.9 623.5,1267.3 625.3,1270.1 627.1,1281.4 628.8,1282.4 630.6,1286.6 632.3,1294 634.1,1289.7 635.8,1294.1 637.6,1283.3 639.3,1284.7 641.1,1277.2 642.9,1269.7 644.6,1272.6 646.4,1270.6 648.1,1263.8 649.9,1272.9 651.6,1284.6 653.4,1291.4 655.1,1288.4 656.9,1297 658.6,1303.4 660.4,1304 662.1,1309.9 663.9,1307.5 665.6,1294 667.4,1295.8 669.1,1285.1 670.9,1283.4 672.6,1290.5 674.4,1290.6 676.1,1303.4 677.9,1296.6 679.6,1286.1 681.4,1277.6 683.1,1271.9 684.9,1274.5 686.6,1267.3 688.4,1272.2 690.1,1266.2 691.9,1270.9 693.6,1274.2 695.4,1280.7 697.1,1291.9 698.9,1292 700.7,1292.1 702.4,1290 704.2,1285.5 705.9,1282.2 707.7,1281.5 709.5,1275.6 711.2,1278 713,1282 714.7,1282.7 716.5,1271.3 718.2,1270.3 720,1261.6 721.7,1275.3 721.7,1290.6 720,1278.5 718.2,1290.8 716.5,1289.6 714.7,1297 713,1294.6 711.2,1300.3 709.5,1299.5 707.7,1296.1 705.9,1298.6 704.2,1298.1 702.4,1303.9 700.7,1313.3 698.9,1314.7 697.1,1311 695.4,1301.5 693.6,1295.3 691.9,1286.5 690.1,1290.1 688.4,1286.7 686.6,1288.5 684.9,1291.4 683.1,1292.7 681.4,1299.1 679.6,1306.5 677.9,1306.8 676.1,1320.6 674.4,1314.4 672.6,1305.6 670.9,1299.4 669.1,1303.2 667.4,1312.8 665.6,1310.9 663.9,1321 662.1,1328.6 660.4,1321.4 658.6,1322.3 656.9,1317.4 655.1,1306.6 653.4,1309.7 651.6,1303.3 649.9,1291.4 648.1,1282.3 646.4,1288.5 644.6,1289.7 642.9,1288.8 641.1,1290.6 639.3,1301.5 637.6,1303 635.8,1311 634.1,1306.3 632.3,1307 630.6,1307.1 628.8,1301.6 627.1,1296.8 625.3,1288.1 623.5,1290.3 621.8,1288.5 620,1281.9 618.3,1291 616.5,1291 614.8,1296.8 613,1302 611.3,1307.9 609.5,1299.1 607.8,1295.7 606,1303.3 604.2,1300.5 602.5,1303.1 600.7,1308.8 599,1297.7 597.2,1289.5 595.5,1294.9 593.7,1305.5 592,1308.7 590.2,1316.1 588.5,1319.2 586.7,1323.2 585,1318 583.2,1313.1 581.5,1313.9 579.7,1314.2 578,1317.3 575.9,1317.4 573.9,1324.1 571.8,1332.1 569.8,1329.5 567.7,1325.3 565.7,1317.4 563.9,1319 562.2,1328.5 560.4,1331.5 558.7,1327.3 556.9,1329.2 555.2,1328.2 553.4,1329.9 551.7,1329.1 549.9,1340.9 548.1,1346.3 546.4,1347.6 544.6,1344.5 542.9,1346.3 541.1,1345.1 539.4,1337.2 537.6,1335.7 535.9,1345.1 534.1,1350.3 532.4,1350.5 530.6,1352.3 528.9,1358.9 527.1,1352.4 525.4,1353.2 523.6,1356.8 521.9,1360.4 520.1,1364.2 518.3,1362 516.6,1366.5 514.8,1359.8 513.1,1364.9 511.3,1361.9 509.6,1373.2 507.8,1384.4 506,1383 504.3,1381.3 502.5,1380.5 500.8,1377.9 499,1377.2 497.3,1382.2 495.5,1385.5 493.8,1390.5 492,1394.9 490.3,1393.6 488.6,1408.8 486.8,1409.1 485.1,1414.6 483.3,1420.3 481.6,1416.3 479.8,1408.2 478,1416.6 476.3,1416.2 474.5,1417.9 472.8,1422.4 471,1419.6 469.2,1422.6 467.5,1415.8 465.7,1424.6 464,1423.6 462.2,1421.9 460.4,1414 458.7,1415.7 456.9,1415.1 455.2,1413 453.4,1410.1 451.7,1405.3 449.9,1409.5 448.2,1403.3 446.4,1395.9 444.7,1396 442.9,1377.5 441.2,1369.4 439.4,1348.9 437.7,1331.2 435.9,1323.8 434.1,1311.9 432.4,1304.5 430.7,1298 428.9,1293.1 427.2,1288 425.4,1286.6 423.6,1281.2 421.9,1272.2 420.1,1260.8 418.4,1285.3 416.6,1312.8 414.9,1302.8 413.1,1303.1 411.4,1305.6 409.6,1307.6 407.9,1311.4 406.1,1299.8 404.4,1290.3 402.6,1298.9 400.9,1308.1 399.1,1313.4 397.3,1327.2 395.6,1336.9 393.8,1350 392.1,1341.9 390.3,1338.6 388.6,1339.1 386.8,1333.7 385.1,1327.7 383.3,1322.2 381.6,1328 379.8,1333.6 378.1,1334.8 376.3,1331.5 374.6,1324.4 372.8,1319.4 371,1320.8 369.3,1328.8 367.5,1332.8 365.8,1316.9 364,1311.2 362.3,1316.4 360.5,1307.5 357.9,1295.8" fill="#e9e9e9"/>
<polyline points="357.9,1315.5 360.1,1319.5 362.3,1319 364,1318.4 365.8,1313.9 367.5,1313.8 369.5,1309.9 371.4,1306.9 373.4,1305.4 375.4,1301.5 377.1,1310.8 378.9,1319 381,1325.1 383,1329.3 385.1,1332.2 386.8,1329.1 388.6,1326.9 390.3,1322.5 392.1,1319.6 393.8,1315.6 395.6,1310.3 397.4,1311.3 399.1,1313.9 400.9,1314.6 402.6,1314.7 404.4,1315.5 406.1,1310.4 407.9,1312.8 409.6,1307.4 411.4,1308.5 413.1,1302.3 414.9,1294 416.6,1286.1 418.4,1278.7 420.1,1275.7 421.9,1268.5 423.6,1262.9 425.4,1265.4 427.1,1270.1 428.9,1271.7 430.7,1279.3 432.4,1283.9 434.2,1289.2 435.9,1295.1 437.7,1301.8 439.4,1308.5 441.2,1305 442.9,1306 444.7,1308.4 446.4,1308.5 448.2,1312.2 449.9,1317.3 451.7,1322.5 453.4,1315.8 455.2,1308.5 457,1310.3 458.7,1312.3 460.5,1315.5 462.2,1318.6 464,1319 465.8,1314.1 467.5,1305.8 469.2,1299 471,1292.7 472.8,1289.4 474.5,1289.2 476.3,1291.8 478,1294.6 479.8,1299.8 481.5,1296.6 483.3,1293.1 485,1289.2 487.2,1297.8 489.4,1310.3 491.1,1302.7 492.9,1291 494.6,1298.1 496.4,1306.8 498.6,1303.1 500.8,1296.2 503,1300.5 505.2,1301.5 507.8,1291 509.6,1290.9 511.3,1284.9 513.1,1284 515.7,1301.5 517.9,1295.9 520.1,1291 521.8,1295.3 523.6,1293.3 525.3,1298 527.1,1285.7 529.1,1280.9 531.2,1280.7 533.2,1277.8 535.9,1292.7 537.6,1286.9 539.4,1283.1 541.1,1275.2 542.9,1273 544.6,1268.4 546.4,1264.7 548.1,1273.5 549.9,1277.7 551.6,1284 553.8,1293.3 556,1302.4 557.8,1298.2 559.5,1291.8 561.2,1286.6 563,1282.2 565.2,1286.2 567.4,1289.2 569.2,1290.8 570.9,1296 572.7,1296.2 575.3,1275.2 577.5,1278.7 579.7,1280.5 581.5,1277.4 583.2,1272.1 585,1270.8 586.7,1276.3 588.5,1282.6 590.2,1289.2 592,1292.3 593.7,1295.2 595.5,1299.5 597.2,1302.7 599,1303.3 600.8,1296.7 602.5,1289.9 604.2,1284.2 606,1277 607.8,1281.1 609.5,1279.7 611.3,1282.2 613,1276.6 614.8,1272.3 616.5,1263.5 618.3,1259.4 620,1263.2 621.8,1271.1 623.5,1273.5 625.3,1276.8 627,1277.1 628.8,1276.9 630.6,1280.5 632.4,1281.1 634.1,1278.8 635.9,1278.1 637.6,1275.2 639.3,1275.8 641.1,1273.5 642.8,1269.9 644.6,1269 646.3,1267.1 648.1,1268.2 649.9,1265 651.6,1263.9 653.4,1261.6 655.1,1259.4 656.9,1269.3 658.6,1282.2 660.4,1275.2 662.1,1271.9 663.9,1266.3 665.6,1260.3 667.4,1263.4 669.1,1270.3 670.9,1271.7 672.6,1278.2 674.4,1281.2 676.1,1289.2 677.9,1275.6 679.7,1262.9 681.4,1267.2 683.2,1267.8 684.9,1271.7 686.6,1269.1 688.4,1264.7 690.2,1265.8 691.9,1270.8 693.7,1275.2 695.4,1264.7 697.2,1267.5 698.9,1267.4 700.7,1268.2 702.5,1271.6 704.2,1272 706,1276.1 707.7,1278.7 709.5,1271.1 711.2,1262.9 713,1255.9 714.7,1251.9 716.5,1245.4 718.2,1248.5 720,1253.7 721.7,1254.2" fill="none" stroke="#000" stroke-width="5.4" stroke-linejoin="round" stroke-linecap="round"/>
<polyline points="357.9,1291 360.5,1303.3 362.3,1304.5 364,1304.6 365.8,1305.9 367.5,1327.8 369.3,1320.9 371,1315.8 372.8,1312 374.6,1319 376.3,1322 378.1,1329.6 379.8,1323.7 381.6,1320 383.3,1317.3 385.1,1320.9 386.8,1325.7 388.6,1327.8 390.3,1331.8 392.1,1336.1 393.8,1338.3 395.6,1325.9 397.3,1317.3 399.1,1307.3 400.9,1302.7 402.6,1292.8 404.4,1285.7 406.1,1295.4 407.9,1303.3 409.6,1300.3 411.4,1297.1 413.1,1296.2 414.9,1298.7 416.6,1303.3 418.4,1276.1 420.1,1252.4 421.9,1263.8 423.6,1271.7 425.4,1274.7 427.2,1277 428.9,1283.3 430.7,1290.8 432.4,1298 434.1,1304.5 435.9,1312 437.7,1324.1 439.4,1341.8 441.2,1354.1 442.9,1364.4 444.7,1376 446.4,1383.9 448.2,1386.5 449.9,1390.1 451.7,1391.3 453.4,1393.2 455.2,1398 456.9,1401.2 458.7,1402.2 460.4,1401.1 462.2,1403.2 464,1405.3 465.7,1405.3 467.5,1403.4 469.2,1405.1 471,1405 472.8,1405.3 474.5,1401.5 476.3,1401.7 478,1396.8 479.8,1396.2 481.6,1398.4 483.3,1401.5 485.1,1398.5 486.8,1392.4 488.6,1388.8 490.3,1385.7 492,1383.8 493.8,1378.6 495.5,1376.4 497.3,1370.5 499,1368.1 500.8,1367.7 502.5,1369.6 504.3,1369.9 506,1374.4 507.8,1373.4 509.6,1362.8 511.3,1354.1 513.1,1354 514.8,1351.7 516.6,1353.2 518.3,1352.2 520.1,1352.4 521.9,1350.2 523.6,1346.9 525.4,1345.4 527.1,1345.3 528.9,1345.4 530.6,1342 532.4,1340.3 534.1,1340.1 535.9,1332.6 537.6,1327.8 539.4,1329.8 541.1,1332.5 542.9,1336.6 544.6,1333.4 546.4,1335 548.1,1333.1 549.9,1328 551.7,1322.8 553.4,1320.8 555.2,1315.5 556.9,1316.6 558.7,1320.4 560.4,1324.3 562.2,1320.5 563.9,1312.1 565.7,1308.5 567.7,1312.9 569.8,1319.3 571.8,1322.5 573.9,1317.4 575.9,1308.2 578,1303.3 579.7,1302.7 581.5,1304.3 583.2,1303.3 585,1305.7 586.7,1311.1 588.5,1312 590.2,1304.6 592,1299.8 593.7,1295.4 595.5,1287 597.2,1280.5 599,1289 600.7,1299.8 602.5,1296.9 604.2,1292.9 606,1292.8 607.8,1289.2 609.5,1291.6 611.3,1296.2 613,1293.8 614.8,1288.2 616.5,1283 618.3,1278.3 620,1275.2 621.8,1277.4 623.5,1277.5 625.3,1280.5 627.1,1287.4 628.8,1289.3 630.6,1296.2 632.3,1298 634.1,1299.9 635.8,1301.5 637.6,1294.1 639.3,1289.8 641.1,1282.2 642.9,1279.5 644.6,1278.5 646.4,1276 648.1,1273.5 649.9,1282.3 651.6,1292.7 653.4,1296.3 655.1,1299.1 656.9,1303.6 658.6,1310.6 660.4,1312.4 662.1,1317.3 663.9,1312.4 665.6,1304.3 667.4,1300.7 669.1,1294.2 670.9,1289.2 672.6,1295.6 674.4,1301.2 676.1,1308.5 677.9,1300.6 679.6,1295.7 681.4,1289.4 683.1,1283 684.9,1278.7 686.6,1279.2 688.4,1276.9 690.1,1277 691.9,1277 693.6,1285.4 695.4,1291.4 697.1,1298.4 698.9,1303.3 700.7,1301.4 702.4,1294.6 704.2,1291.8 705.9,1287.2 707.7,1285.7 709.5,1287.4 711.2,1288.2 713,1287.7 714.7,1289.2 716.5,1283 718.2,1278.2 720,1271.7 721.7,1283.9" fill="none" stroke="#f59999" stroke-width="5.4" stroke-linejoin="round" stroke-linecap="round"/>
<line x1="420.8" y1="1180.9" x2="420.8" y2="1213.1" stroke="#555" stroke-width="2.2"/>
<polygon points="414.3,1211.1 420.8,1216.1 427.3,1211.1 420.8,1226.1" fill="#555"/>
<line x1="844.3" y1="1190.7" x2="844.3" y2="1464.1" stroke="#000" stroke-width="1.3"/>
<line x1="831.8" y1="1191.3" x2="844.3" y2="1191.3" stroke="#000" stroke-width="1.3"/>
<text transform="translate(820 1201) scale(0.95 1)" font-size="30" text-anchor="end">3</text>
<line x1="831.8" y1="1236.7" x2="844.3" y2="1236.7" stroke="#000" stroke-width="1.3"/>
<text transform="translate(820 1246.4) scale(0.95 1)" font-size="30" text-anchor="end">2</text>
<line x1="831.8" y1="1282.1" x2="844.3" y2="1282.1" stroke="#000" stroke-width="1.3"/>
<text transform="translate(820 1291.8) scale(0.95 1)" font-size="30" text-anchor="end">1</text>
<line x1="831.8" y1="1327.5" x2="844.3" y2="1327.5" stroke="#000" stroke-width="1.3"/>
<text transform="translate(820 1337.2) scale(0.95 1)" font-size="30" text-anchor="end">0</text>
<line x1="831.8" y1="1372.9" x2="844.3" y2="1372.9" stroke="#000" stroke-width="1.3"/>
<text transform="translate(820 1382.6) scale(0.95 1)" font-size="30" text-anchor="end">−1</text>
<line x1="831.8" y1="1418.3" x2="844.3" y2="1418.3" stroke="#000" stroke-width="1.3"/>
<text transform="translate(820 1428) scale(0.95 1)" font-size="30" text-anchor="end">−2</text>
<line x1="831.8" y1="1463.5" x2="844.3" y2="1463.5" stroke="#000" stroke-width="1.3"/>
<text transform="translate(820 1473.2) scale(0.95 1)" font-size="30" text-anchor="end">−3</text>
<line x1="831.8" y1="1328" x2="1046.4" y2="1328" stroke="#333" stroke-width="1.5"/>
<rect x="873.5" y="1278.1" width="56.4" height="49.9" fill="#000"/>
<rect x="959" y="1328" width="57" height="19.5" fill="#f87c7c"/>
<line x1="831.8" y1="1328" x2="1046.4" y2="1328" stroke="#333" stroke-width="1.5"/>
<circle cx="901.3" cy="1233.8" r="3.2" fill="#666"/>
<circle cx="895.2" cy="1255.8" r="3.2" fill="#666"/>
<circle cx="907.6" cy="1255.8" r="3.2" fill="#666"/>
<circle cx="901.3" cy="1263.2" r="3.2" fill="#666"/>
<circle cx="901.3" cy="1271" r="3.2" fill="#666"/>
<circle cx="901.3" cy="1303.2" r="3.2" fill="#666"/>
<circle cx="901.3" cy="1314.9" r="3.2" fill="#666"/>
<circle cx="901.3" cy="1323.5" r="3.2" fill="#666"/>
<circle cx="987.4" cy="1273.8" r="3.2" fill="#666"/>
<circle cx="987.4" cy="1301.7" r="3.2" fill="#666"/>
<circle cx="987.4" cy="1317.4" r="3.2" fill="#666"/>
<circle cx="987.4" cy="1338.1" r="3.2" fill="#666"/>
<circle cx="987.4" cy="1349" r="3.2" fill="#666"/>
<circle cx="987.4" cy="1389.6" r="3.2" fill="#666"/>
<circle cx="987.4" cy="1396.9" r="3.2" fill="#666"/>
<circle cx="987.4" cy="1416.6" r="3.2" fill="#666"/>
<line x1="901.3" y1="1266.5" x2="901.3" y2="1289.3" stroke="#555" stroke-width="1.5"/>
<line x1="887.3" y1="1266.5" x2="915.3" y2="1266.5" stroke="#555" stroke-width="1.5"/>
<line x1="887.3" y1="1289.3" x2="915.3" y2="1289.3" stroke="#555" stroke-width="1.5"/>
<line x1="987.4" y1="1330.3" x2="987.4" y2="1365.2" stroke="#555" stroke-width="1.5"/>
<line x1="973.4" y1="1330.3" x2="1001.4" y2="1330.3" stroke="#555" stroke-width="1.5"/>
<line x1="973.4" y1="1365.2" x2="1001.4" y2="1365.2" stroke="#555" stroke-width="1.5"/>
<line x1="903.3" y1="1190" x2="983.1" y2="1190" stroke="#000" stroke-width="1.3"/>
<text x="943" y="1195" font-size="33" text-anchor="middle">**</text>
<text x="772.5" y="1328.5" font-size="29" text-anchor="middle" transform="rotate(-90 772.5 1328.5)">AUC normalized</text>
<text x="913.5" y="1476.5" font-size="29" text-anchor="end" transform="rotate(-45 913.5 1476.5)">Saline</text>
<text x="998" y="1477" font-size="29.6" text-anchor="end" transform="rotate(-45 998 1477)">Ketamine</text>
<text transform="translate(1057 1116) scale(1.13 1)" font-size="33" font-weight="bold" stroke="#000" stroke-width="0.9">g</text>
<line x1="1140" y1="1255" x2="1082" y2="1235" stroke="#d6d6d6" stroke-width="1"/>
<line x1="1140" y1="1258" x2="1080" y2="1262" stroke="#d6d6d6" stroke-width="1"/>
<line x1="1142" y1="1262" x2="1086" y2="1280" stroke="#d6d6d6" stroke-width="1"/>
<line x1="1146" y1="1265" x2="1095" y2="1290" stroke="#d6d6d6" stroke-width="1"/>
<line x1="1150" y1="1268" x2="1110" y2="1292" stroke="#d6d6d6" stroke-width="1"/>
<line x1="1135" y1="1245" x2="1090" y2="1222" stroke="#d6d6d6" stroke-width="1"/>
<line x1="1198" y1="1255" x2="1256" y2="1235" stroke="#d6d6d6" stroke-width="1"/>
<line x1="1198" y1="1258" x2="1258" y2="1262" stroke="#d6d6d6" stroke-width="1"/>
<line x1="1196" y1="1262" x2="1252" y2="1280" stroke="#d6d6d6" stroke-width="1"/>
<line x1="1192" y1="1265" x2="1243" y2="1290" stroke="#d6d6d6" stroke-width="1"/>
<line x1="1188" y1="1268" x2="1228" y2="1292" stroke="#d6d6d6" stroke-width="1"/>
<line x1="1203" y1="1245" x2="1248" y2="1222" stroke="#d6d6d6" stroke-width="1"/>
<ellipse cx="1116" cy="1167" rx="23.5" ry="32" transform="rotate(-28 1116 1167)" fill="#4a4543"/>
<ellipse cx="1117" cy="1166" rx="20" ry="28" transform="rotate(-28 1117 1166)" fill="#b98985"/>
<ellipse cx="1225" cy="1167" rx="23.5" ry="32" transform="rotate(28 1225 1167)" fill="#4a4543"/>
<ellipse cx="1224" cy="1166" rx="20" ry="28" transform="rotate(28 1224 1166)" fill="#b98985"/>
<path d="M1110,1172 Q1116,1158 1128,1163" fill="none" stroke="#a87a76" stroke-width="2"/>
<path d="M1231,1172 Q1225,1158 1213,1163" fill="none" stroke="#a87a76" stroke-width="2"/>
<path d="M1169,1156 C1196,1156 1222,1175 1226,1208 C1229,1232 1222,1245 1205,1258 C1192,1268 1180,1277 1169,1278 C1158,1277 1146,1268 1133,1258 C1116,1245 1109,1232 1112,1208 C1116,1175 1142,1156 1169,1156 Z" fill="#504b48"/>
<ellipse cx="1153.5" cy="1186" rx="16.5" ry="26" fill="#e4c1bd" stroke="#efd8d5" stroke-width="1"/>
<ellipse cx="1185" cy="1186" rx="16.5" ry="26" fill="#e4c1bd" stroke="#efd8d5" stroke-width="1"/>
<path d="M1143,1200 L1158,1190 M1195,1200 L1180,1190" stroke="#f0d6d3" stroke-width="1.5"/>
<ellipse cx="1145" cy="1219.5" rx="5" ry="6" fill="#2a1f1f"/>
<ellipse cx="1193.5" cy="1219.5" rx="5" ry="6" fill="#2a1f1f"/>
<ellipse cx="1169" cy="1261" rx="8" ry="5.5" fill="#b47f7b"/>
<text x="1136.5" y="1315.4" font-size="29.8">PFC</text>
<line x1="1234.6" y1="1228.8" x2="1280" y2="1228.8" stroke="#2b55a0" stroke-width="2.4"/>
<polygon points="1276,1222.5 1289,1228.8 1276,1235 1279,1228.8" fill="#2b55a0"/>
<line x1="1289.3" y1="1305.8" x2="1205" y2="1405.5" stroke="#2b55a0" stroke-width="2.4"/>
<polygon points="-14,-6.5 0,0 -14,6.5 -10,0" transform="translate(1199.2 1412.6) rotate(130.2)" fill="#2b55a0"/>
<path d="M1288.7,1143.7 L1319.2,1143.7 L1319.2,1161 C1326,1166 1326,1184 1313.6,1190 L1313.6,1286 A10,10 0 0 1 1293.7,1286 L1293.7,1190 C1281,1184 1281,1166 1288.7,1161 Z" fill="#eeeeee" stroke="#d0d0d0" stroke-width="1.2"/>
<rect x="1284.3" y="1138.7" width="40" height="5.5" rx="1.5" fill="#efefef" stroke="#d0d0d0" stroke-width="1"/>
<path d="M1293.7,1249.6 L1313.6,1249.6 L1313.6,1286 A10,10 0 0 1 1293.7,1286 Z" fill="#72c6df"/>
<polygon points="1313,1272.6 1373.4,1232.8 1373.4,1314.4" fill="#b9d0e4"/>
<rect x="1373.4" y="1231.3" width="109" height="84.3" fill="#fbfcff" stroke="#7d9dd2" stroke-width="1.6"/>
<ellipse cx="1400.8" cy="1254.6" rx="22" ry="17" fill="#dde1f5" stroke="#6f83d6" stroke-width="2.2"/>
<line x1="1384.6" y1="1250.6" x2="1384.6" y2="1266.6" stroke="#8094dc" stroke-width="2.2"/>
<line x1="1390" y1="1242.6" x2="1390" y2="1258.6" stroke="#8094dc" stroke-width="2.2"/>
<line x1="1395.4" y1="1250.6" x2="1395.4" y2="1266.6" stroke="#8094dc" stroke-width="2.2"/>
<line x1="1400.8" y1="1242.6" x2="1400.8" y2="1258.6" stroke="#8094dc" stroke-width="2.2"/>
<line x1="1406.2" y1="1250.6" x2="1406.2" y2="1266.6" stroke="#8094dc" stroke-width="2.2"/>
<line x1="1411.6" y1="1242.6" x2="1411.6" y2="1258.6" stroke="#8094dc" stroke-width="2.2"/>
<line x1="1417" y1="1250.6" x2="1417" y2="1266.6" stroke="#8094dc" stroke-width="2.2"/>
<ellipse cx="1454.4" cy="1261.4" rx="22" ry="17" fill="#dde1f5" stroke="#6f83d6" stroke-width="2.2"/>
<line x1="1438.2" y1="1257.4" x2="1438.2" y2="1273.4" stroke="#8094dc" stroke-width="2.2"/>
<line x1="1443.6" y1="1249.4" x2="1443.6" y2="1265.4" stroke="#8094dc" stroke-width="2.2"/>
<line x1="1449" y1="1257.4" x2="1449" y2="1273.4" stroke="#8094dc" stroke-width="2.2"/>
<line x1="1454.4" y1="1249.4" x2="1454.4" y2="1265.4" stroke="#8094dc" stroke-width="2.2"/>
<line x1="1459.8" y1="1257.4" x2="1459.8" y2="1273.4" stroke="#8094dc" stroke-width="2.2"/>
<line x1="1465.2" y1="1249.4" x2="1465.2" y2="1265.4" stroke="#8094dc" stroke-width="2.2"/>
<line x1="1470.6" y1="1257.4" x2="1470.6" y2="1273.4" stroke="#8094dc" stroke-width="2.2"/>
<ellipse cx="1413.3" cy="1294.4" rx="22" ry="17" fill="#dde1f5" stroke="#6f83d6" stroke-width="2.2"/>
<line x1="1397.1" y1="1290.4" x2="1397.1" y2="1306.4" stroke="#8094dc" stroke-width="2.2"/>
<line x1="1402.5" y1="1282.4" x2="1402.5" y2="1298.4" stroke="#8094dc" stroke-width="2.2"/>
<line x1="1407.9" y1="1290.4" x2="1407.9" y2="1306.4" stroke="#8094dc" stroke-width="2.2"/>
<line x1="1413.3" y1="1282.4" x2="1413.3" y2="1298.4" stroke="#8094dc" stroke-width="2.2"/>
<line x1="1418.7" y1="1290.4" x2="1418.7" y2="1306.4" stroke="#8094dc" stroke-width="2.2"/>
<line x1="1424.1" y1="1282.4" x2="1424.1" y2="1298.4" stroke="#8094dc" stroke-width="2.2"/>
<line x1="1429.5" y1="1290.4" x2="1429.5" y2="1306.4" stroke="#8094dc" stroke-width="2.2"/>
<text x="1434.5" y="1151.8" font-size="30" text-anchor="middle">[<tspan font-size="19" dy="-11">13</tspan><tspan dy="11">C</tspan><tspan font-size="19" dy="6">3</tspan><tspan dy="-6">]Pyruvate</tspan></text>
<text x="1433.8" y="1185.4" font-size="30.2" text-anchor="middle">incubation with</text>
<text x="1434.8" y="1218.4" font-size="30" text-anchor="middle">ketamine</text>
<path d="M1382.1,1353.1 A72,72 0 0 1 1471.1,1370.4" fill="none" stroke="#2b3f72" stroke-width="2.3"/>
<polygon points="-13,-6 0,0 -13,6 -9.5,0" transform="translate(1471.1 1370.4) rotate(42.0)" fill="#2b3f72"/>
<path d="M1482.7,1389.7 A72,72 0 0 1 1462.2,1471.9" fill="none" stroke="#2b3f72" stroke-width="2.3"/>
<polygon points="-13,-6 0,0 -13,6 -9.5,0" transform="translate(1462.2 1471.9) rotate(132.0)" fill="#2b3f72"/>
<path d="M1438.1,1485.2 A72,72 0 0 1 1353.5,1452.7" fill="none" stroke="#2b3f72" stroke-width="2.3"/>
<polygon points="-13,-6 0,0 -13,6 -9.5,0" transform="translate(1353.5 1452.7) rotate(232.0)" fill="#2b3f72"/>
<path d="M1347.0,1437.8 A72,72 0 0 1 1370.6,1360.7" fill="none" stroke="#2b3f72" stroke-width="2.3"/>
<polygon points="-13,-6 0,0 -13,6 -9.5,0" transform="translate(1370.6 1360.7) rotate(313.0)" fill="#2b3f72"/>
<text x="1411.8" y="1424.9" font-size="29.7" text-anchor="middle">TCA</text>
<g>
<rect x="1113" y="1414" width="11" height="21.5" rx="2" fill="#d6ebf3" stroke="#b9cfd8" stroke-width="0.8"/>
<rect x="1116" y="1407.5" width="5" height="7" fill="#5a5656"/>
<rect x="1117" y="1406.5" width="3" height="2" fill="#d06060"/>
<rect x="1122" y="1414" width="11" height="21.5" rx="2" fill="#d6ebf3" stroke="#b9cfd8" stroke-width="0.8"/>
<rect x="1125" y="1407.5" width="5" height="7" fill="#5a5656"/>
<rect x="1126" y="1406.5" width="3" height="2" fill="#d06060"/>
<rect x="1134" y="1414" width="11" height="21.5" rx="2" fill="#d6ebf3" stroke="#b9cfd8" stroke-width="0.8"/>
<rect x="1137" y="1407.5" width="5" height="7" fill="#5a5656"/>
<rect x="1138" y="1406.5" width="3" height="2" fill="#d06060"/>
<rect x="1095.8" y="1435.9" width="66.8" height="12.5" fill="#dedede" stroke="#c4c4c4" stroke-width="0.8"/>
<rect x="1100" y="1448.4" width="58" height="3" fill="#6a6a6a"/>
<rect x="1095.8" y="1451" width="66.8" height="15.8" fill="#d2d2d2" stroke="#c4c4c4" stroke-width="0.8"/>
<rect x="1115" y="1454.3" width="46.7" height="7.5" fill="#4a4a4a"/>
<rect x="1100" y="1466.8" width="58" height="3.2" fill="#6a6a6a"/>
<rect x="1095.8" y="1470" width="68" height="16" fill="#e9e7e5" stroke="#c4c4c4" stroke-width="0.8"/>
<rect x="1100" y="1486" width="58" height="5.5" fill="#6a6a6a"/>
<rect x="1095.8" y="1491.5" width="66.8" height="35.3" fill="#cfcfcf" stroke="#c4c4c4" stroke-width="0.8"/>
<rect x="1115" y="1494.5" width="46.7" height="32" fill="#4b4b4b"/>
<rect x="1100" y="1526.8" width="58" height="5" fill="#6a6a6a"/>
<rect x="1095.8" y="1531.8" width="66.8" height="21.7" fill="#d0d0d0" stroke="#c4c4c4" stroke-width="0.8"/>
<rect x="1115" y="1536" width="46.7" height="16" fill="#4b4b4b"/>
<rect x="1097" y="1553.5" width="64" height="5" fill="#bdbdbd"/>
<rect x="1180" y="1442.6" width="23.4" height="21.7" fill="#3e3c3c"/>
<rect x="1182.5" y="1445" width="18" height="14" fill="#e6e6e6"/>
<rect x="1169.2" y="1465.1" width="39.2" height="81.7" fill="#d7d3cf" stroke="#c0bcb8" stroke-width="0.8"/>
<rect x="1179" y="1481" width="20" height="34" fill="#bdb9b5"/>
<circle cx="1186" cy="1494" r="5" fill="#a9a5a1"/>
<rect x="1186" y="1473" width="4" height="12" fill="#3e3c3c"/>
<polygon points="1208.4,1461 1315.2,1460.5 1305.2,1550.2 1208.4,1550.2" fill="#5a5855"/>
<polygon points="1315.2,1460.5 1320.5,1461 1312,1550.2 1305.2,1550.2" fill="#5b8cc8"/>
<polygon points="1320.5,1461 1329.3,1466 1329.3,1546 1312,1550.2" fill="#cfcbc7"/>
<rect x="1208.4" y="1483.6" width="104" height="1.2" fill="#5b8cc8"/>
<polygon points="1169.2,1546.8 1329.3,1546 1326,1560 1170,1558" fill="#4d4b49"/>
</g>
<text transform="translate(1559 1117) scale(1.13 1)" font-size="33" font-weight="bold" stroke="#000" stroke-width="0.9">h</text>
<ellipse cx="1793.9" cy="1280.7" rx="150.3" ry="31.8" transform="rotate(-35.5 1793.9 1280.7)" fill="#f25a5a" fill-opacity="0.32"/>
<ellipse cx="1882.2" cy="1257.8" rx="151.8" ry="53.1" transform="rotate(7.15 1882.2 1257.8)" fill="#3cc766" fill-opacity="0.32"/>
<ellipse cx="1967.2" cy="1345.7" rx="175.3" ry="55.3" transform="rotate(-49.5 1967.2 1345.7)" fill="#5b8cf5" fill-opacity="0.32"/>
<ellipse cx="1824.8" cy="1354.7" rx="136" ry="5" transform="rotate(-22.5 1824.8 1354.7)" fill="#c67af2" fill-opacity="0.4"/>
<circle cx="2022.5" cy="1285.6" r="7.3" fill="#4a7ff5"/>
<circle cx="1927.4" cy="1356.5" r="7.3" fill="#4a7ff5"/>
<circle cx="1951.2" cy="1396.5" r="7.3" fill="#4a7ff5"/>
<circle cx="1817.6" cy="1241" r="7.3" fill="#35c460"/>
<circle cx="1938.4" cy="1249.5" r="7.3" fill="#35c460"/>
<circle cx="1892.6" cy="1283.9" r="7.3" fill="#35c460"/>
<circle cx="1868.8" cy="1335.3" r="7.3" fill="#c56cf3"/>
<circle cx="1837.7" cy="1352.5" r="7.3" fill="#c56cf3"/>
<circle cx="1770" cy="1377.1" r="7.3" fill="#c56cf3"/>
<circle cx="1845" cy="1238.1" r="7.3" fill="#f24646"/>
<circle cx="1746.2" cy="1302.7" r="7.3" fill="#f24646"/>
<circle cx="1793.8" cy="1302.2" r="7.3" fill="#f24646"/>
<line x1="1647.4" y1="1137" x2="1647.4" y2="1538.4" stroke="#000" stroke-width="1.3"/>
<line x1="1647.4" y1="1538.4" x2="2160" y2="1538.4" stroke="#000" stroke-width="1.3"/>
<line x1="1640" y1="1138" x2="1647.4" y2="1138" stroke="#000" stroke-width="1.3"/>
<text transform="translate(1637.5 1147.8) scale(0.95 1)" font-size="30" text-anchor="end">3</text>
<line x1="1640" y1="1195.2" x2="1647.4" y2="1195.2" stroke="#000" stroke-width="1.3"/>
<text transform="translate(1637.5 1205) scale(0.95 1)" font-size="30" text-anchor="end">2</text>
<line x1="1640" y1="1252.4" x2="1647.4" y2="1252.4" stroke="#000" stroke-width="1.3"/>
<text transform="translate(1637.5 1262.2) scale(0.95 1)" font-size="30" text-anchor="end">1</text>
<line x1="1640" y1="1309.6" x2="1647.4" y2="1309.6" stroke="#000" stroke-width="1.3"/>
<text transform="translate(1637.5 1319.4) scale(0.95 1)" font-size="30" text-anchor="end">0</text>
<line x1="1640" y1="1366.8" x2="1647.4" y2="1366.8" stroke="#000" stroke-width="1.3"/>
<text transform="translate(1637.5 1376.6) scale(0.95 1)" font-size="30" text-anchor="end">−1</text>
<line x1="1640" y1="1424" x2="1647.4" y2="1424" stroke="#000" stroke-width="1.3"/>
<text transform="translate(1637.5 1433.8) scale(0.95 1)" font-size="30" text-anchor="end">−2</text>
<line x1="1640" y1="1481.2" x2="1647.4" y2="1481.2" stroke="#000" stroke-width="1.3"/>
<text transform="translate(1637.5 1491) scale(0.95 1)" font-size="30" text-anchor="end">−3</text>
<line x1="1640" y1="1538.4" x2="1647.4" y2="1538.4" stroke="#000" stroke-width="1.3"/>
<text transform="translate(1637.5 1548.2) scale(0.95 1)" font-size="30" text-anchor="end">−4</text>
<line x1="1647.4" y1="1538.4" x2="1647.4" y2="1546" stroke="#000" stroke-width="1.3"/>
<text transform="translate(1646.4 1572) scale(0.95 1)" font-size="30" text-anchor="middle">−6</text>
<line x1="1720.6" y1="1538.4" x2="1720.6" y2="1546" stroke="#000" stroke-width="1.3"/>
<text transform="translate(1719.6 1572) scale(0.95 1)" font-size="30" text-anchor="middle">−4</text>
<line x1="1793.8" y1="1538.4" x2="1793.8" y2="1546" stroke="#000" stroke-width="1.3"/>
<text transform="translate(1792.8 1572) scale(0.95 1)" font-size="30" text-anchor="middle">−2</text>
<line x1="1867" y1="1538.4" x2="1867" y2="1546" stroke="#000" stroke-width="1.3"/>
<text transform="translate(1867 1572) scale(0.95 1)" font-size="30" text-anchor="middle">0</text>
<line x1="1940.2" y1="1538.4" x2="1940.2" y2="1546" stroke="#000" stroke-width="1.3"/>
<text transform="translate(1940.2 1572) scale(0.95 1)" font-size="30" text-anchor="middle">2</text>
<line x1="2013.4" y1="1538.4" x2="2013.4" y2="1546" stroke="#000" stroke-width="1.3"/>
<text transform="translate(2013.4 1572) scale(0.95 1)" font-size="30" text-anchor="middle">4</text>
<line x1="2086.6" y1="1538.4" x2="2086.6" y2="1546" stroke="#000" stroke-width="1.3"/>
<text transform="translate(2086.6 1572) scale(0.95 1)" font-size="30" text-anchor="middle">6</text>
<line x1="2159.8" y1="1538.4" x2="2159.8" y2="1546" stroke="#000" stroke-width="1.3"/>
<text transform="translate(2159.8 1572) scale(0.95 1)" font-size="30" text-anchor="middle">8</text>
<text x="1904" y="1612.9" font-size="29.2" text-anchor="middle">PC1 (72.36%)</text>
<text x="1585" y="1338.5" font-size="29.3" text-anchor="middle" transform="rotate(-90 1585 1338.5)">PC2 (12.52%)</text>
<circle cx="1687.3" cy="1121" r="6.3" fill="#4a7ff5"/>
<circle cx="1687.3" cy="1154.4" r="6.3" fill="#35c460"/>
<circle cx="1932.4" cy="1121" r="6.3" fill="#c56cf3"/>
<circle cx="1932.4" cy="1154.4" r="6.3" fill="#f24646"/>
<text x="1705" y="1130" font-size="30">Control</text>
<text x="1705" y="1163.5" font-size="30">2 µM ketamine</text>
<text x="1949.5" y="1130" font-size="30">10 µM ketamine</text>
<text x="1949.5" y="1163.5" font-size="30">50 µM ketamine</text>
</svg>
</body></html>
